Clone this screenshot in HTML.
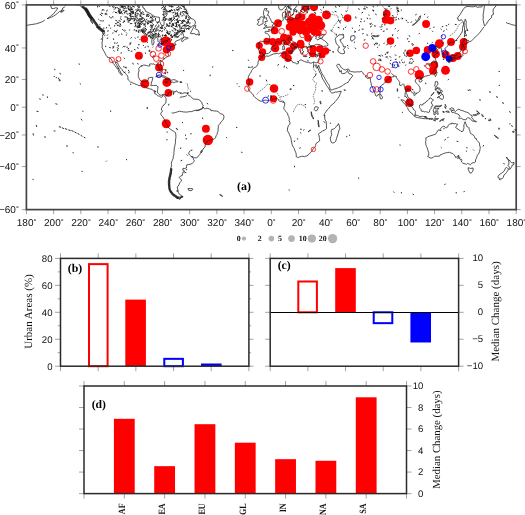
<!DOCTYPE html><html><head><meta charset="utf-8"><style>html,body{margin:0;padding:0;background:#fff;}svg{display:block;text-rendering:geometricPrecision;will-change:transform}</style></head><body>
<svg width="525" height="515" viewBox="0 0 525 515">
<rect width="525" height="515" fill="#fff"/>
<g clip-path="url(#mapclip)">
<clipPath id="mapclip"><rect x="26.4" y="4.9" width="489.80000000000007" height="204.7"/></clipPath>
<circle cx="144.3" cy="38.9" r="3.65" fill="#ff0000"/>
<circle cx="138.9" cy="55.7" r="3.95" fill="#ff0000"/>
<circle cx="165.9" cy="41.4" r="5.15" fill="#ff0000"/>
<circle cx="171.0" cy="46.9" r="4.05" fill="#ff0000"/>
<circle cx="166.5" cy="49.7" r="3.75" fill="#ff0000"/>
<circle cx="159.0" cy="67.6" r="3.85" fill="#ff0000"/>
<circle cx="166.9" cy="82.4" r="4.55" fill="#ff0000"/>
<circle cx="144.8" cy="83.8" r="4.55" fill="#ff0000"/>
<circle cx="168.4" cy="92.9" r="3.85" fill="#ff0000"/>
<circle cx="166.3" cy="123.7" r="4.55" fill="#ff0000"/>
<circle cx="205.9" cy="128.8" r="3.95" fill="#ff0000"/>
<circle cx="207.9" cy="140.0" r="5.25" fill="#ff0000"/>
<circle cx="278.0" cy="23.3" r="3.95" fill="#ff0000"/>
<circle cx="274.6" cy="30.5" r="3.85" fill="#ff0000"/>
<circle cx="290.6" cy="20.4" r="3.75" fill="#ff0000"/>
<circle cx="305.5" cy="7.0" r="4.05" fill="#ff0000"/>
<circle cx="314.0" cy="7.0" r="4.05" fill="#ff0000"/>
<circle cx="326.5" cy="14.9" r="4.45" fill="#ff0000"/>
<circle cx="292.0" cy="22.0" r="4.25" fill="#ff0000"/>
<circle cx="299.0" cy="17.5" r="4.05" fill="#ff0000"/>
<circle cx="296.5" cy="28.0" r="4.45" fill="#ff0000"/>
<circle cx="293.0" cy="32.0" r="3.65" fill="#ff0000"/>
<circle cx="302.5" cy="25.0" r="4.45" fill="#ff0000"/>
<circle cx="306.0" cy="31.5" r="4.45" fill="#ff0000"/>
<circle cx="308.0" cy="38.0" r="3.75" fill="#ff0000"/>
<circle cx="312.5" cy="17.5" r="4.25" fill="#ff0000"/>
<circle cx="318.5" cy="20.0" r="4.25" fill="#ff0000"/>
<circle cx="320.5" cy="25.5" r="4.75" fill="#ff0000"/>
<circle cx="312.0" cy="25.0" r="4.75" fill="#ff0000"/>
<circle cx="314.5" cy="31.0" r="4.45" fill="#ff0000"/>
<circle cx="318.0" cy="33.0" r="3.25" fill="#ff0000"/>
<circle cx="309.0" cy="22.0" r="4.25" fill="#ff0000"/>
<circle cx="297.0" cy="22.0" r="4.25" fill="#ff0000"/>
<circle cx="300.0" cy="30.0" r="4.25" fill="#ff0000"/>
<circle cx="310.0" cy="28.5" r="4.25" fill="#ff0000"/>
<circle cx="302.0" cy="17.0" r="3.45" fill="#ff0000"/>
<circle cx="316.0" cy="26.0" r="4.25" fill="#ff0000"/>
<circle cx="289.5" cy="27.0" r="3.75" fill="#ff0000"/>
<circle cx="300.5" cy="43.4" r="3.75" fill="#ff0000"/>
<circle cx="259.3" cy="45.6" r="3.55" fill="#ff0000"/>
<circle cx="262.6" cy="51.8" r="3.55" fill="#ff0000"/>
<circle cx="261.7" cy="57.5" r="3.55" fill="#ff0000"/>
<circle cx="266.9" cy="41.3" r="3.55" fill="#ff0000"/>
<circle cx="272.7" cy="41.7" r="3.75" fill="#ff0000"/>
<circle cx="278.7" cy="41.7" r="3.75" fill="#ff0000"/>
<circle cx="275.3" cy="48.3" r="3.95" fill="#ff0000"/>
<circle cx="284.0" cy="37.7" r="3.95" fill="#ff0000"/>
<circle cx="288.7" cy="38.3" r="3.75" fill="#ff0000"/>
<circle cx="286.7" cy="41.7" r="3.55" fill="#ff0000"/>
<circle cx="293.7" cy="46.0" r="3.75" fill="#ff0000"/>
<circle cx="300.7" cy="44.7" r="3.75" fill="#ff0000"/>
<circle cx="289.3" cy="51.0" r="3.75" fill="#ff0000"/>
<circle cx="285.0" cy="55.0" r="3.95" fill="#ff0000"/>
<circle cx="288.0" cy="58.3" r="3.75" fill="#ff0000"/>
<circle cx="313.1" cy="49.0" r="3.75" fill="#ff0000"/>
<circle cx="312.6" cy="53.8" r="3.55" fill="#ff0000"/>
<circle cx="319.8" cy="49.0" r="3.75" fill="#ff0000"/>
<circle cx="325.5" cy="51.0" r="3.75" fill="#ff0000"/>
<circle cx="322.1" cy="54.8" r="3.55" fill="#ff0000"/>
<circle cx="249.6" cy="81.9" r="3.75" fill="#ff0000"/>
<circle cx="274.0" cy="88.6" r="4.25" fill="#ff0000"/>
<circle cx="273.6" cy="98.7" r="3.55" fill="#ff0000"/>
<circle cx="347.6" cy="18.1" r="3.85" fill="#ff0000"/>
<circle cx="386.7" cy="13.7" r="3.85" fill="#ff0000"/>
<circle cx="385.7" cy="20.0" r="3.85" fill="#ff0000"/>
<circle cx="390.5" cy="20.6" r="3.85" fill="#ff0000"/>
<circle cx="390.5" cy="41.0" r="3.75" fill="#ff0000"/>
<circle cx="388.1" cy="79.5" r="3.85" fill="#ff0000"/>
<circle cx="408.1" cy="88.6" r="3.45" fill="#ff0000"/>
<circle cx="409.5" cy="102.7" r="4.25" fill="#ff0000"/>
<circle cx="426.1" cy="24.0" r="3.95" fill="#ff0000"/>
<circle cx="439.4" cy="43.7" r="4.45" fill="#ff0000"/>
<circle cx="451.0" cy="42.0" r="3.95" fill="#ff0000"/>
<circle cx="463.7" cy="42.0" r="3.95" fill="#ff0000"/>
<circle cx="463.0" cy="46.7" r="3.95" fill="#ff0000"/>
<circle cx="427.7" cy="50.0" r="3.95" fill="#ff0000"/>
<circle cx="416.3" cy="50.4" r="3.75" fill="#ff0000"/>
<circle cx="410.0" cy="53.3" r="3.75" fill="#ff0000"/>
<circle cx="435.7" cy="54.0" r="4.25" fill="#ff0000"/>
<circle cx="445.7" cy="54.7" r="3.95" fill="#ff0000"/>
<circle cx="453.0" cy="58.0" r="3.95" fill="#ff0000"/>
<circle cx="457.7" cy="56.0" r="3.95" fill="#ff0000"/>
<circle cx="434.3" cy="65.3" r="3.95" fill="#ff0000"/>
<circle cx="433.0" cy="70.7" r="3.95" fill="#ff0000"/>
<circle cx="445.5" cy="70.3" r="4.45" fill="#ff0000"/>
<circle cx="419.3" cy="74.8" r="4.75" fill="#ff0000"/>
<circle cx="432.3" cy="48.0" r="3.95" fill="#0000ff"/>
<circle cx="425.7" cy="56.7" r="4.45" fill="#0000ff"/>
<circle cx="449.0" cy="58.7" r="3.25" fill="#0000ff"/>
<path d="M65.2,6.2 65.9,3.5 69.9,2.1 72.7,2.7 75.4,4.6 79.5,5.2 81.5,6.8 84.2,8.6 86.3,9.7 87.6,11.4 89.0,13.9 90.3,16.8 92.4,18.0 93.7,19.2 94.4,21.0 95.8,22.8 97.1,24.4 97.8,26.6 99.2,27.4 101.2,28.7 102.6,30.2 104.2,30.8 104.6,32.8 104.0,34.4 102.6,34.8 102.6,36.4 102.6,38.8 102.5,40.7 101.9,42.9 102.3,44.7 102.0,47.2 102.9,49.4 104.0,51.5 104.8,52.1 104.6,52.8 105.4,53.8 105.9,55.2 107.1,56.5 107.2,57.2 108.7,57.5 110.1,58.2 111.0,58.8 111.8,60.3 112.5,61.9 113.3,63.6 114.0,64.6 115.4,65.8 116.1,67.2 116.9,68.1 117.8,69.2 118.6,70.4 118.8,72.2 119.6,72.8 120.7,74.0 121.6,75.3 122.5,74.7 121.8,73.7 120.8,73.0 120.6,71.9 119.9,70.9 119.1,69.2 118.2,67.7 117.3,66.1 116.5,64.6 115.4,63.0 115.1,61.7 115.9,62.2 117.4,62.7 118.2,64.2 118.9,65.8 119.9,67.4 121.0,68.3 122.3,69.8 122.9,71.2 124.1,72.2 125.3,73.4 126.4,74.6 127.5,75.9 128.0,77.5 127.8,78.8 128.3,80.0 129.4,81.0 130.5,82.0 132.1,82.6 133.3,83.3 134.8,83.8 136.2,84.4 137.6,85.0 139.1,85.5 140.4,85.7 142.0,85.1 143.1,85.1 144.4,85.8 145.7,87.2 146.9,88.2 148.2,88.2 149.4,88.8 150.9,89.2 152.1,89.3 152.5,89.7 153.3,90.6 154.6,92.0 154.7,93.1 154.8,93.8 155.7,94.0 156.2,94.3 157.0,95.0 157.6,95.7 158.4,96.1 159.3,96.1 160.4,96.9 161.4,97.3 162.0,97.0 162.5,96.6 162.0,96.1 163.1,95.1 164.1,95.4 164.8,96.0 165.0,96.9 165.6,97.5 166.0,98.3 166.1,99.5 166.0,101.1 166.0,102.2 165.4,103.6 164.5,104.1 164.0,105.1 162.9,105.6 162.3,106.4 162.0,107.7 161.4,108.7 161.6,110.2 162.6,110.9 162.2,111.7 161.5,112.3 160.8,113.1 161.0,114.7 161.6,115.7 162.6,116.5 163.4,117.9 164.1,119.1 164.8,120.5 165.4,122.0 166.3,123.5 167.1,124.9 167.6,125.9 168.2,127.3 169.3,128.4 170.3,129.1 171.7,130.1 173.3,131.1 174.3,131.8 175.5,132.6 175.8,134.7 175.9,136.4 175.8,138.4 175.4,140.2 175.5,142.3 175.1,144.4 174.8,146.2 174.2,148.2 174.2,150.3 173.9,152.3 173.9,154.7 173.3,156.3 173.1,158.7 172.4,160.2 171.7,161.7 171.3,163.4 171.6,165.5 171.0,167.4 170.9,169.2 171.6,170.1 171.0,171.6 171.4,173.1 170.8,175.0 169.8,176.9 169.1,178.5 169.9,179.7 169.0,180.9 169.8,182.7 168.7,184.3 169.5,186.2 169.1,188.6 169.9,190.3 171.2,191.9 172.5,193.7 174.0,194.6 175.7,195.5 177.4,196.7 179.5,197.0 180.8,197.2 182.7,196.5 181.0,195.5 179.6,194.4 178.2,192.3 178.0,191.0 176.6,191.0 178.2,190.8 177.6,189.0 177.3,187.1 178.2,186.0 179.2,184.3 179.7,182.7 181.2,181.3 181.8,180.1 179.9,178.5 179.3,177.3 180.7,175.9 182.2,175.6 182.6,173.8 183.0,172.0 184.0,171.6 184.8,171.4 183.8,170.5 182.7,170.1 183.0,168.3 184.5,168.5 186.4,168.0 186.5,166.5 186.8,164.8 188.3,164.6 190.2,164.3 192.4,163.4 193.1,162.5 194.2,161.2 194.2,160.2 193.3,159.2 193.5,158.5 192.0,157.2 191.7,156.0 192.1,156.5 193.3,157.2 194.8,157.8 196.5,157.8 197.6,157.2 198.5,155.9 199.6,154.7 200.4,153.4 201.5,151.8 202.3,150.6 203.1,149.0 204.1,147.8 205.0,147.0 205.2,145.3 205.2,143.8 205.6,142.9 206.9,141.8 208.3,140.8 209.7,140.4 210.8,139.8 212.5,139.2 214.2,139.2 215.0,138.3 215.7,137.3 216.1,135.8 217.1,134.4 217.3,132.6 218.0,131.4 218.1,129.2 218.4,127.1 218.2,125.6 218.9,124.9 219.9,123.9 220.7,122.3 221.8,121.3 222.6,120.3 223.4,119.2 223.8,117.9 224.0,116.6 223.4,114.9 222.3,114.2 220.8,113.9 219.3,112.7 218.0,111.5 216.5,111.0 214.4,111.0 212.3,110.5 211.0,110.8 210.8,109.7 209.4,109.0 207.9,108.5 206.1,108.1 205.3,108.9 204.4,108.6 203.3,107.7 202.7,106.6 203.3,105.4 202.2,104.3 201.6,102.0 201.0,101.4 200.0,100.6 198.9,99.6 197.6,99.4 195.9,99.2 194.6,99.2 193.3,99.1 192.3,98.0 191.6,97.3 190.2,96.0 188.9,95.5 187.8,94.6 187.4,93.8 186.5,92.9 185.2,92.8 184.0,92.8 182.6,93.5 181.2,92.8 179.7,92.8 178.4,92.8 177.6,91.7 176.1,90.7 175.8,91.7 174.3,91.7 174.0,92.8 173.3,94.6 173.3,92.7 173.5,91.4 172.7,91.0 171.7,91.8 170.3,92.1 169.4,92.2 168.4,93.2 168.3,94.4 167.5,95.0 166.7,96.0 166.0,95.5 165.3,94.6 164.5,94.4 163.1,94.2 161.8,95.0 161.0,95.3 160.1,95.0 159.5,94.7 158.9,94.2 157.8,93.1 157.4,92.0 157.4,90.9 157.7,89.7 157.8,88.2 158.1,86.8 157.3,86.4 156.3,85.4 155.0,85.4 153.6,85.5 152.1,85.4 151.3,85.7 150.6,85.5 151.2,84.6 151.3,83.3 151.4,81.9 152.0,81.6 152.3,80.1 152.5,78.7 153.2,77.8 152.7,77.4 151.2,77.4 149.5,77.7 148.4,78.1 148.2,79.6 148.0,80.4 146.9,81.4 145.6,81.6 144.2,81.7 143.0,82.3 141.8,81.6 140.7,81.0 140.1,80.1 139.5,79.1 138.8,77.8 138.4,76.6 138.2,75.3 138.4,73.7 138.5,72.2 139.1,70.9 138.8,69.5 138.8,68.3 139.7,67.2 140.8,66.6 142.2,65.7 143.7,65.0 145.0,65.2 146.4,65.5 147.5,65.8 148.6,66.0 149.7,66.1 149.9,65.5 149.4,64.2 150.3,63.9 151.4,63.9 152.7,64.1 153.7,63.9 154.8,64.6 155.5,65.0 156.6,64.6 157.6,64.9 158.2,66.0 158.8,67.2 158.8,68.4 159.5,69.6 160.0,70.6 160.7,71.5 161.1,71.9 161.9,71.8 162.3,70.4 162.3,69.2 161.8,67.7 161.6,66.7 161.1,65.5 160.6,64.1 160.6,62.5 161.2,61.4 162.0,60.6 163.4,59.5 164.5,58.5 165.7,57.7 166.9,57.0 168.0,56.2 168.6,55.5 168.2,53.8 167.9,53.2 167.5,51.6 167.5,50.2 167.4,49.0 168.0,48.8 168.3,49.9 169.1,50.6 169.1,49.9 169.4,49.7 170.1,48.8 170.6,47.4 170.6,46.9 170.9,46.4 172.1,46.2 173.5,45.6 174.7,45.3 175.2,45.1 176.1,44.9 175.8,44.2 174.8,43.8 175.0,42.7 175.2,42.3 175.8,41.2 176.9,40.8 178.1,40.3 179.5,39.7 180.3,39.1 181.2,38.4 182.6,38.0 183.7,37.0 183.4,38.2 181.9,39.3 181.4,40.5 181.9,41.6 183.1,41.0 184.5,39.7 185.7,39.1 187.5,38.6 188.3,38.2 187.6,37.6 186.3,37.4 184.8,37.2 183.8,36.4 183.3,35.2 183.1,33.4 182.3,33.0 181.5,32.8 182.5,32.2 183.5,31.4 183.8,30.8 182.0,30.4 180.4,30.6 178.2,31.8 176.7,33.2 175.4,34.6 174.4,35.2 174.2,35.4 175.2,34.2 176.3,33.0 177.4,31.8 178.5,30.2 179.7,30.0 181.0,28.3 183.1,28.3 185.0,28.1 187.5,28.5 189.5,28.3 191.3,27.0 192.7,25.9 193.7,25.5 194.8,24.4 195.4,23.1 195.1,21.0 193.6,19.4 192.4,19.0 190.6,18.3 190.3,17.1 188.7,16.1 187.6,14.2 187.2,12.7 186.3,10.2 184.9,8.6 184.2,6.0 183.4,3.8 M190.6,33.6 191.0,32.0 191.8,30.6 192.7,29.1 193.5,27.4 194.4,25.7 195.7,25.3 195.7,27.0 195.0,28.5 195.8,29.3 197.3,29.8 198.4,30.6 198.9,32.0 199.2,33.6 199.6,34.0 199.3,35.2 198.6,35.4 198.1,34.0 197.0,34.4 196.2,35.0 195.4,34.0 193.9,33.6 191.8,33.6 190.6,33.6 M142.3,4.1 142.9,6.8 143.1,8.1 144.5,8.4 145.6,11.4 147.5,12.2 149.5,13.2 151.4,14.2 153.2,15.6 155.2,16.8 157.7,17.1 159.3,17.3 159.5,19.4 159.6,21.5 160.4,23.1 161.6,25.5 162.9,25.9 163.8,25.3 164.1,23.5 164.0,20.6 163.4,18.5 165.2,17.1 166.4,15.6 167.1,14.2 166.9,11.9 166.1,9.4 164.9,7.8 165.7,6.0 165.6,3.5 M146.0,35.4 147.5,35.0 148.9,35.6 150.8,34.6 152.3,35.8 154.3,35.4 155.9,35.8 156.2,34.8 155.8,33.4 153.7,31.4 151.6,31.2 149.8,32.6 148.2,33.2 146.0,35.4 M155.7,36.8 153.5,37.0 152.1,38.6 151.8,40.1 151.8,42.2 152.1,44.2 152.5,45.1 153.5,44.5 153.9,43.1 153.9,41.4 153.6,40.1 154.8,38.6 155.7,37.4 155.7,36.8 M156.2,36.8 156.9,37.8 157.8,38.6 158.0,40.1 157.7,41.0 159.1,42.5 160.1,41.8 160.1,40.1 160.7,38.8 162.2,39.5 161.6,37.8 160.3,36.6 158.6,36.6 156.2,36.8 M157.8,44.9 159.2,45.5 160.7,44.9 162.5,44.0 163.8,43.1 162.2,43.3 160.7,43.3 159.1,44.4 157.8,44.9 M162.7,42.0 164.5,41.8 166.5,42.0 167.6,41.4 167.2,40.3 165.6,40.8 163.3,41.4 162.7,42.0 M139.6,27.9 140.3,26.1 139.1,23.7 138.0,21.3 136.9,20.1 136.3,21.5 138.1,24.4 139.1,27.2 139.6,27.9 M155.8,76.8 157.0,75.6 158.4,75.2 159.7,74.9 161.5,75.0 163.0,75.8 164.8,76.2 166.3,77.2 167.9,78.0 169.3,78.5 170.3,79.3 169.4,79.7 167.2,79.7 165.6,79.7 166.3,78.7 165.2,78.0 164.4,77.2 163.1,77.1 161.8,76.6 160.1,76.2 158.8,75.8 157.0,76.6 155.8,76.8 M170.1,81.7 171.4,80.0 172.7,79.8 173.9,79.7 175.4,80.0 176.5,80.7 178.1,81.6 177.7,82.0 176.2,81.9 174.6,82.1 173.9,82.9 172.5,82.1 171.4,82.1 170.1,81.7 M164.8,81.9 166.3,81.7 167.5,82.3 166.7,82.7 165.4,82.6 164.8,81.9 M179.9,81.7 182.0,81.9 181.9,82.4 179.9,82.4 179.9,81.7 M165.2,69.6 166.3,69.8 165.7,71.0 165.2,69.6 M164.9,72.2 165.6,73.1 165.4,74.1 164.9,73.3 164.9,72.2 M167.5,71.8 167.1,72.5 167.8,73.1 167.5,71.8 M96.6,27.0 97.8,28.5 99.5,29.8 100.6,31.0 102.6,32.0 103.4,32.0 101.5,29.5 99.9,28.1 97.8,27.0 96.6,27.0 M90.3,19.7 91.4,19.9 92.3,22.2 92.7,23.7 91.7,22.6 90.8,21.0 90.3,19.7 M44.8,20.1 42.7,21.5 40.0,22.6 36.6,23.7 33.9,24.2 31.2,24.6 28.4,25.0 26.4,25.5 M64.8,7.0 62.7,8.1 61.5,11.2 59.7,11.2 57.7,13.2 55.7,14.7 53.6,16.1 51.6,17.1 50.2,17.5 48.7,18.3 47.1,18.7 49.4,17.3 51.3,15.4 53.2,14.2 55.0,11.9 56.7,9.9 57.7,8.1 55.7,7.8 53.5,8.6 51.6,8.4 50.5,5.2 M60.8,12.2 62.9,11.7 64.1,10.4 62.6,10.2 61.4,10.9 60.8,12.2 M506.0,22.4 507.4,23.3 509.4,23.7 511.4,24.6 513.5,25.0 515.5,25.5 516.2,25.7 M187.9,188.6 190.2,188.6 192.4,188.6 192.8,189.5 191.0,190.8 188.7,190.3 187.9,188.6 M187.1,93.5 187.6,92.5 188.4,92.5 188.3,93.5 187.1,93.5 M208.7,3.3 210.8,5.2 212.4,4.6 213.3,3.3 M59.2,79.3 60.4,80.0 59.7,81.1 59.2,80.8 59.2,79.3 M56.1,77.2 56.7,77.7 56.2,77.7 56.1,77.2 M58.1,78.1 59.1,78.4 58.4,78.7 58.1,78.1 M53.9,76.4 54.6,76.5 54.2,76.8 53.9,76.4 M146.8,107.5 147.5,107.5 147.6,108.6 146.9,108.5 146.8,107.5 M219.6,194.6 221.6,195.1 222.6,196.5 220.7,195.3 219.6,194.6 M278.0,0.7 278.1,3.3 278.5,6.2 278.9,8.1 279.5,9.4 280.7,9.9 282.2,9.7 283.5,8.4 284.6,7.3 285.6,5.7 285.9,7.0 286.5,7.6 286.7,9.1 287.4,10.9 288.0,12.4 288.6,13.9 288.7,15.6 289.1,16.6 290.6,16.6 291.0,15.4 292.4,14.9 293.3,14.4 293.7,12.7 293.9,10.7 294.2,8.9 295.2,8.1 296.2,6.8 296.9,5.2 295.1,3.3 294.8,0.7 M300.3,0.7 300.6,3.0 301.6,4.4 302.6,4.9 303.3,4.6 304.6,4.6 306.0,3.8 307.4,3.8 308.7,3.5 310.2,3.3 311.3,4.4 312.0,5.2 310.8,5.2 309.4,6.2 308.0,6.5 306.0,6.2 304.4,6.5 303.3,7.0 303.3,8.1 303.4,9.4 304.4,9.4 304.5,10.9 304.4,12.2 303.3,12.7 302.6,12.4 301.9,11.2 300.7,11.7 299.9,13.2 299.9,14.9 300.0,15.9 300.3,17.1 299.7,17.5 298.5,17.8 298.0,19.0 296.9,19.0 296.5,18.3 295.1,18.0 293.7,18.7 292.4,19.4 290.8,20.1 289.5,19.4 288.3,19.0 287.2,19.7 286.1,19.9 286.1,19.0 285.2,18.7 284.8,18.0 285.6,16.6 285.2,15.2 285.7,13.9 285.4,12.2 285.7,10.9 284.9,11.4 284.1,12.4 283.0,12.4 282.5,13.4 282.3,14.9 282.5,16.4 283.0,17.3 283.1,19.0 283.4,19.9 282.6,20.8 281.1,21.5 279.9,21.3 278.6,21.5 277.8,22.4 277.4,23.9 276.7,24.6 276.1,25.5 275.4,25.9 274.6,26.4 273.6,26.8 273.5,28.1 272.8,28.7 271.6,29.3 271.6,30.0 270.6,30.2 269.5,30.0 269.1,29.3 268.7,29.3 269.3,31.4 268.0,31.6 266.9,31.2 265.3,31.4 264.9,32.2 265.4,32.8 265.3,33.2 266.5,33.4 267.6,33.8 268.3,34.4 268.6,34.8 269.0,35.8 269.7,36.4 269.7,37.6 269.7,39.1 269.5,40.3 269.3,41.6 268.9,41.8 267.5,41.8 266.1,41.6 264.8,41.8 263.4,41.4 261.8,41.4 260.4,41.2 259.6,41.8 258.8,42.3 258.9,43.4 259.2,44.4 259.3,45.5 259.2,46.7 258.8,48.5 258.4,49.7 258.6,50.2 259.2,50.6 259.3,51.5 259.3,52.5 259.2,53.2 260.4,53.0 261.2,52.8 261.9,52.8 262.6,53.5 262.9,54.2 263.7,54.8 264.5,54.2 265.2,53.7 266.5,53.7 268.3,53.5 269.1,52.6 270.2,52.1 270.6,51.1 271.6,50.2 270.9,49.0 271.3,48.1 272.1,46.9 272.5,46.2 274.2,45.6 275.4,44.7 275.7,43.8 275.4,42.5 276.1,42.0 277.2,41.6 278.1,42.0 279.3,42.3 280.4,42.2 281.4,41.2 282.5,40.8 283.3,39.9 284.2,40.3 285.2,40.8 285.6,42.0 286.3,43.3 287.4,44.2 288.3,45.1 289.1,45.6 290.3,46.2 291.0,46.9 291.7,47.6 292.5,48.0 292.8,48.8 293.2,50.1 292.7,51.1 292.9,51.6 293.9,50.8 294.6,49.7 294.7,49.0 293.9,48.3 294.4,47.2 295.7,47.4 296.5,47.8 296.2,46.9 294.7,46.2 293.2,45.3 293.1,44.5 292.0,44.5 290.8,43.4 289.8,41.6 288.4,40.5 288.0,39.5 288.2,38.0 289.1,37.4 289.9,37.6 290.2,38.9 291.6,39.7 292.1,40.7 292.9,41.6 294.3,42.2 295.2,42.7 296.5,43.6 297.6,44.5 297.8,45.3 297.7,46.5 297.7,47.6 298.5,48.7 299.3,49.7 299.7,50.6 300.3,50.9 300.8,52.0 300.8,53.3 301.8,54.0 302.3,53.7 302.9,54.0 302.5,52.5 303.1,52.1 304.0,52.0 303.3,51.3 302.2,50.2 302.6,49.2 302.2,48.0 302.0,47.1 303.1,47.4 303.8,47.8 304.4,46.5 305.6,46.4 306.7,46.5 307.4,47.1 306.9,47.8 307.9,47.4 309.4,47.2 310.8,47.2 312.0,46.7 310.8,46.2 310.1,46.2 308.6,46.4 307.8,46.9 307.1,48.0 306.9,49.0 307.9,49.4 308.0,50.8 307.2,51.1 308.3,51.6 308.4,52.8 309.0,53.5 309.8,53.5 310.8,53.8 311.7,54.5 312.8,54.0 312.9,53.5 314.2,53.5 315.5,54.7 317.0,54.5 318.2,53.7 319.6,53.8 320.4,53.5 320.6,54.3 320.0,55.2 320.1,56.2 319.7,57.3 319.1,58.3 319.1,59.6 318.8,60.4 318.4,61.7 317.8,62.5 316.3,62.8 315.2,62.7 314.3,62.2 313.5,62.0 312.7,62.4 311.6,63.0 310.3,63.1 308.7,62.5 307.1,62.2 305.6,62.0 304.4,61.4 302.9,60.9 301.9,60.1 300.7,59.9 299.6,60.4 298.6,61.4 298.5,63.0 297.8,63.9 296.6,63.8 295.5,63.1 294.2,62.7 292.7,62.4 292.0,60.9 290.8,60.3 289.3,59.9 288.0,60.1 286.9,59.5 286.3,58.6 285.3,58.5 285.0,57.7 286.0,56.8 286.4,56.0 285.7,55.0 285.7,54.2 286.4,53.3 285.3,52.8 284.5,52.6 283.3,53.3 281.8,53.3 280.0,53.0 278.5,53.8 277.4,53.3 276.1,53.5 274.8,53.8 273.2,54.0 272.0,54.7 270.6,55.2 269.7,55.7 268.3,56.3 266.9,56.0 265.3,56.3 264.1,55.0 263.1,55.2 262.6,56.2 261.9,57.7 261.0,58.6 259.6,59.3 258.6,60.4 258.0,62.2 258.1,63.6 257.6,64.9 256.7,66.0 255.7,67.2 254.2,67.7 253.2,68.3 252.4,69.5 251.6,70.6 251.2,71.9 250.2,73.4 249.5,74.3 248.9,75.8 248.3,76.9 248.2,78.1 248.6,79.1 249.1,80.1 249.4,81.7 249.1,83.3 248.9,84.7 248.4,85.8 247.9,86.7 247.5,87.1 248.2,87.5 248.6,88.3 248.4,89.2 248.6,90.3 249.3,90.9 250.1,91.4 250.9,92.4 251.4,93.2 252.4,93.9 253.3,95.0 253.9,96.4 254.8,97.3 255.8,98.0 256.7,98.7 257.8,99.6 259.1,100.5 260.4,101.1 261.1,101.3 262.5,100.9 263.8,100.3 265.2,100.2 266.5,100.3 267.9,100.7 268.6,100.7 269.4,100.3 270.6,99.9 272.0,99.4 273.1,99.0 274.4,98.7 276.1,98.6 277.4,98.7 278.4,99.5 278.9,100.6 279.7,101.4 281.0,101.3 282.2,101.1 283.0,101.0 284.0,101.8 284.5,102.4 284.8,103.0 284.6,104.1 284.6,105.5 284.2,106.3 284.0,107.3 283.7,108.3 284.2,109.4 285.0,110.6 286.1,111.6 286.9,112.7 287.6,113.8 288.0,114.9 288.0,115.5 288.7,116.6 289.3,118.5 289.3,119.5 289.0,120.5 289.8,122.0 290.1,123.1 289.8,124.1 289.0,125.0 288.3,125.9 287.9,127.1 287.4,129.0 287.4,130.7 288.2,132.1 289.0,133.5 289.5,134.9 290.6,137.1 291.0,138.7 291.4,140.8 292.1,144.7 293.6,147.6 294.2,148.4 294.8,150.3 295.7,152.3 296.2,154.1 296.3,155.7 296.2,156.3 296.3,156.8 296.9,157.0 297.6,157.3 298.2,157.7 299.1,157.0 300.7,156.7 301.5,156.3 303.0,156.3 304.5,156.7 305.9,156.0 306.9,155.9 308.0,155.0 309.1,154.2 310.3,152.8 311.3,151.7 312.4,150.3 313.3,148.7 314.2,147.8 315.1,147.1 315.5,145.6 315.9,144.1 316.1,143.6 316.3,143.2 316.9,142.7 318.4,142.0 319.5,140.7 319.6,138.6 319.3,137.3 319.1,135.8 318.5,134.5 318.6,133.8 319.9,132.9 321.0,132.1 322.3,131.2 324.1,130.4 325.7,129.4 326.7,128.3 326.4,127.0 326.5,125.5 326.3,123.9 326.3,122.1 326.0,121.3 325.0,119.8 324.8,118.1 324.8,116.9 324.2,115.9 324.2,114.7 324.6,113.6 325.2,112.8 326.0,111.7 326.4,110.8 327.1,110.0 327.9,109.4 329.0,108.1 330.2,106.7 331.3,105.2 332.8,104.1 334.3,102.9 335.2,101.5 336.6,100.1 337.7,98.6 339.1,96.6 340.0,94.3 340.4,93.1 341.0,92.2 341.1,91.1 340.0,91.4 338.2,91.8 336.9,92.0 335.2,92.0 333.6,92.8 331.6,92.9 330.3,91.8 329.8,90.2 329.0,88.9 327.8,87.1 326.5,85.5 325.3,83.1 324.4,81.7 323.5,80.1 322.2,78.1 321.6,76.1 321.1,74.3 320.0,73.0 319.1,70.9 318.2,68.6 317.3,66.7 316.5,64.9 315.7,64.7 315.2,65.2 315.7,65.8 315.9,67.0 316.7,68.3 317.4,67.8 318.1,66.9 318.5,65.5 318.8,65.3 319.3,67.4 320.0,68.9 321.0,71.5 321.9,73.4 323.4,75.9 324.5,77.5 325.3,79.3 326.8,81.7 327.8,83.3 328.9,84.8 329.5,86.4 329.8,87.8 330.3,89.5 330.8,90.0 331.6,89.9 332.5,89.7 333.9,89.2 335.2,88.8 337.3,88.1 338.6,87.6 340.0,86.9 341.1,86.5 342.3,85.7 343.5,84.8 344.8,84.0 346.1,83.4 346.9,82.6 348.2,82.4 348.6,81.3 349.7,80.1 349.9,79.0 350.9,78.3 352.0,76.8 352.7,75.8 351.8,74.6 350.9,74.1 349.7,73.8 348.6,73.3 347.9,71.9 348.0,70.6 347.6,70.3 346.9,71.3 346.3,72.1 345.3,73.3 344.1,73.4 342.7,73.7 341.5,73.3 341.4,72.5 341.5,71.3 341.4,70.6 340.8,70.7 340.4,71.6 340.0,72.1 339.6,71.0 339.5,70.0 338.8,69.2 338.4,68.3 337.7,67.7 337.2,66.7 336.6,65.3 337.2,64.7 337.7,64.1 338.6,64.4 339.5,64.4 339.9,65.3 340.3,66.0 340.8,66.9 341.4,67.8 342.5,68.4 343.5,69.3 344.8,69.8 345.9,70.0 346.9,69.3 347.9,69.0 348.7,69.2 349.3,70.4 349.4,71.2 350.6,71.3 351.7,71.6 352.9,71.8 354.6,72.1 356.3,71.9 357.7,71.8 359.2,71.9 360.7,71.6 361.9,71.6 362.7,72.5 363.1,73.7 364.0,74.3 364.6,74.9 365.3,75.5 366.7,75.8 365.9,76.5 365.2,76.2 367.1,78.3 367.9,78.4 369.1,78.1 370.1,77.5 370.3,78.8 370.5,80.7 370.9,82.4 371.2,83.8 371.4,85.3 372.1,86.7 372.8,88.2 373.2,89.7 373.7,91.1 374.3,92.2 375.0,93.6 375.4,95.0 376.1,96.0 376.7,96.2 377.6,95.7 377.8,94.7 379.1,94.6 379.9,93.2 380.0,91.5 380.6,89.3 380.4,87.2 380.6,86.0 381.6,85.4 382.2,84.7 383.3,84.4 384.0,83.4 385.0,82.3 386.1,81.1 387.1,80.3 388.3,79.6 389.5,78.4 389.7,77.4 390.8,77.1 391.8,77.1 392.9,76.8 394.2,76.6 394.6,75.8 395.2,76.1 396.2,76.1 396.3,77.2 396.9,78.4 397.7,79.4 398.5,80.4 399.1,81.3 399.7,82.4 399.6,84.0 399.6,85.1 400.1,85.4 401.1,85.5 402.2,84.6 403.1,83.7 404.1,84.8 404.2,86.2 404.9,87.9 405.3,89.3 405.5,91.1 405.3,92.7 405.0,93.9 405.0,95.3 404.9,96.5 405.3,96.0 406.0,96.9 406.8,98.0 407.5,98.7 407.9,99.6 407.9,101.0 408.4,102.1 409.1,103.3 409.8,103.9 410.9,104.7 412.0,105.5 412.7,105.5 413.1,105.2 412.7,104.1 412.0,102.8 412.0,101.4 411.6,100.1 410.8,99.2 409.7,98.3 408.7,97.9 408.0,97.5 407.6,96.1 407.2,94.7 406.4,93.6 406.3,92.4 406.8,91.0 407.2,89.7 407.5,88.8 408.3,88.8 408.6,89.9 409.7,90.0 410.8,90.6 411.2,91.4 411.7,92.4 412.7,92.9 413.6,93.1 414.0,93.9 413.9,95.3 414.4,95.5 415.5,94.7 416.3,94.0 416.5,93.2 417.4,92.9 418.4,92.4 419.6,91.5 419.9,90.4 420.1,89.2 419.9,87.8 419.3,86.4 418.8,85.5 417.8,84.6 416.6,83.4 415.9,82.4 415.1,81.1 415.4,80.0 416.2,79.0 416.9,78.3 418.1,77.4 419.2,77.2 420.4,77.2 420.8,77.7 420.7,78.8 421.5,79.1 421.8,78.1 422.7,77.4 424.1,76.9 425.2,76.2 426.1,76.1 426.9,75.8 428.3,75.5 429.5,75.3 430.6,74.4 431.6,73.6 432.5,72.8 433.5,71.8 434.0,70.9 434.3,69.8 435.0,68.9 435.7,67.8 436.2,66.9 436.9,65.8 437.2,64.7 436.3,64.1 437.2,63.1 437.0,62.2 436.2,61.6 435.8,60.4 435.5,59.3 435.0,57.7 433.9,57.2 433.5,56.3 434.3,55.3 435.2,54.7 436.2,53.8 437.8,53.3 437.7,52.5 436.6,52.3 435.7,51.8 434.4,52.6 433.3,52.8 433.1,51.6 432.0,50.9 431.3,50.4 431.4,49.5 432.5,49.4 433.6,49.0 434.2,48.1 435.4,47.4 436.3,46.4 437.4,46.9 436.7,48.0 436.2,49.2 436.5,50.1 437.6,49.4 438.5,48.7 439.5,48.3 440.4,48.1 441.1,48.5 441.8,48.8 441.5,50.1 441.1,51.1 442.2,51.8 443.0,52.0 443.5,52.8 443.4,54.0 443.5,55.3 443.1,56.5 443.4,57.3 444.5,57.2 445.6,56.7 446.7,56.3 447.4,55.7 447.5,54.3 447.4,53.0 446.8,51.8 446.1,50.8 445.6,49.9 444.8,48.8 445.2,48.1 446.3,47.4 447.2,46.5 447.8,45.5 448.6,44.4 449.1,43.3 449.9,42.9 451.3,42.0 452.5,42.9 453.9,41.8 455.5,40.8 457.0,39.1 458.4,37.4 459.7,35.6 460.8,34.0 462.0,32.2 462.5,29.8 462.6,27.4 463.5,24.6 463.5,22.8 462.9,21.5 461.4,19.7 459.3,20.6 458.0,19.9 458.2,18.7 457.3,18.5 458.0,17.1 459.9,14.9 461.5,12.2 463.4,9.1 465.3,7.0 467.1,6.5 469.4,6.5 471.3,6.8 473.6,6.8 475.4,6.2 477.4,7.3 478.9,7.0 481.1,7.0 482.2,6.5 481.9,5.2 483.5,2.1 M484.4,2.1 484.5,4.9 483.8,10.7 483.5,12.7 483.1,14.7 483.3,17.1 483.0,19.4 483.8,23.1 484.5,26.1 486.3,24.4 487.4,22.2 489.0,19.9 491.4,17.8 491.8,15.2 493.5,14.4 493.1,11.4 493.3,9.1 495.1,7.0 496.5,4.9 497.8,3.5 M263.5,28.5 264.5,28.5 265.6,27.9 266.7,27.4 267.9,27.4 269.0,27.2 269.9,27.0 271.3,27.0 272.5,26.8 273.2,26.1 272.3,25.5 272.5,24.8 273.5,24.2 273.6,22.8 273.1,22.4 271.8,22.4 271.6,21.3 271.0,20.6 270.8,19.2 269.8,18.5 269.4,17.5 269.1,16.1 268.4,15.4 267.2,15.2 267.8,14.4 268.4,13.2 268.9,11.4 268.0,10.9 266.4,10.9 265.7,10.4 267.1,8.6 265.2,8.6 264.5,8.6 264.1,10.2 263.5,11.7 263.7,13.2 263.3,13.9 264.0,15.2 263.8,16.6 264.6,16.1 264.6,17.3 264.4,18.0 265.3,18.0 266.7,17.8 266.5,19.2 267.2,20.1 267.2,21.5 266.5,21.5 265.0,21.5 265.2,22.6 265.7,23.5 264.9,24.4 264.2,24.8 265.6,25.3 266.7,25.7 267.2,26.1 266.1,26.1 265.3,26.6 264.4,27.4 263.5,28.5 M262.9,23.9 263.1,22.4 263.0,21.0 262.9,19.9 263.7,18.7 263.3,17.3 262.5,17.1 261.2,16.8 260.1,17.3 259.7,18.5 260.1,19.2 257.8,19.4 257.8,21.0 258.8,21.7 258.0,23.1 257.3,24.4 258.1,25.3 259.7,25.3 261.1,24.4 262.6,23.9 262.9,23.9 M288.2,51.6 289.4,51.1 291.0,51.3 292.5,50.9 291.8,52.6 292.0,53.7 290.8,53.2 289.0,52.3 288.2,51.6 M282.7,46.4 283.8,45.8 284.6,47.1 284.4,49.5 283.5,49.7 282.7,49.7 282.9,47.6 282.5,46.9 282.7,46.4 M283.0,43.6 284.1,42.5 284.4,43.8 283.8,45.5 283.1,44.7 283.0,43.6 M303.3,56.0 304.4,55.8 306.0,56.0 307.1,56.0 306.7,56.5 304.9,56.7 303.4,56.3 303.3,56.0 M315.2,56.5 316.2,55.8 318.4,55.3 317.6,56.5 316.2,57.2 315.2,56.5 M274.6,48.7 275.7,48.1 275.8,49.0 275.0,48.8 274.6,48.7 M286.1,16.8 286.5,15.4 287.9,14.9 288.4,15.9 287.6,17.1 286.4,17.1 286.1,16.8 M284.6,16.8 285.6,16.4 285.7,17.3 284.9,17.5 284.6,16.8 M295.9,11.9 296.9,10.4 296.7,12.2 295.9,11.9 M301.0,9.4 302.6,8.6 302.3,9.7 301.0,9.4 M310.8,45.8 309.5,45.1 309.1,43.6 309.4,42.5 310.2,41.4 310.3,40.3 311.6,38.8 311.7,38.2 312.9,36.6 313.5,35.6 314.6,35.6 315.5,36.6 316.9,36.8 315.5,38.0 316.9,39.5 317.8,39.9 319.3,38.9 321.0,38.4 322.3,39.3 323.5,40.1 324.8,40.8 325.9,41.8 327.1,43.1 328.0,44.7 327.9,45.3 326.8,46.0 325.0,46.2 323.4,46.4 321.8,45.8 320.6,45.1 319.2,44.4 317.7,44.4 316.6,44.4 315.2,44.7 313.9,45.8 312.4,45.8 310.8,45.8 M319.3,38.2 318.9,37.4 319.6,36.2 321.0,35.6 322.3,34.6 323.7,34.6 324.8,34.4 323.3,36.0 322.6,37.0 322.5,38.0 321.1,38.0 319.3,38.2 M338.6,35.0 340.0,34.8 341.1,34.6 342.7,35.0 343.4,35.4 343.7,36.8 343.5,38.0 342.2,38.2 341.1,39.7 339.7,39.9 340.4,40.7 341.1,42.2 342.0,43.3 343.0,44.7 343.1,46.0 343.5,46.9 344.6,46.7 345.6,46.5 344.8,48.0 344.1,48.8 343.5,49.2 344.0,50.4 344.6,52.1 344.5,53.3 342.7,53.7 341.4,53.5 339.9,53.0 339.1,52.3 338.0,51.5 337.8,50.2 338.2,48.8 338.6,47.4 339.7,47.2 338.8,46.5 337.8,45.3 337.0,44.4 336.1,43.1 335.8,42.0 335.9,40.7 335.0,39.9 335.4,38.8 335.8,37.6 336.9,36.8 337.6,36.4 338.6,35.0 M350.9,36.2 352.3,35.8 354.4,35.6 355.1,37.2 354.7,38.8 353.5,40.1 352.0,41.2 350.9,40.7 350.5,38.8 350.9,36.2 M371.3,36.2 372.7,35.6 374.2,35.4 375.5,36.0 376.9,35.8 378.4,35.2 379.2,35.6 378.5,36.4 376.7,36.6 375.2,36.6 373.5,36.4 372.3,37.4 371.3,36.2 M412.5,25.3 413.9,24.8 415.5,23.5 417.0,22.2 418.6,20.8 419.9,18.7 420.6,15.9 420.0,15.9 419.1,17.5 417.6,20.6 415.8,22.4 414.2,23.9 412.5,25.0 412.5,25.3 M312.0,1.6 313.5,1.0 315.9,1.9 316.1,3.3 314.4,4.4 312.8,4.9 312.0,1.6 M318.9,0.7 320.3,0.7 319.3,2.7 318.9,0.7 M314.4,108.6 315.2,106.8 316.5,106.8 317.7,107.1 318.6,107.8 317.7,108.6 317.3,110.0 316.6,110.8 315.4,110.8 314.4,109.7 314.4,108.6 M311.2,111.7 311.3,113.6 311.4,115.1 311.8,116.4 312.7,117.5 313.3,119.0 313.7,119.0 313.1,117.5 312.5,115.9 311.8,114.4 311.6,113.0 311.2,111.7 M318.0,120.2 318.4,122.0 318.0,123.1 318.4,125.0 318.5,126.7 319.2,127.0 318.9,125.0 318.6,123.0 318.2,120.9 318.0,120.2 M320.1,101.0 320.6,101.4 321.1,103.7 320.6,104.0 320.1,102.4 320.1,101.0 M289.7,89.2 290.6,88.6 291.4,88.9 291.0,89.7 290.1,89.5 289.7,89.2 M271.2,98.7 271.6,97.2 271.3,95.4 270.5,95.7 270.8,97.2 271.2,98.7 M308.0,131.9 310.1,130.1 310.8,130.1 309.1,131.2 308.0,131.9 M321.6,90.6 322.5,90.7 322.3,91.4 321.6,90.6 M338.4,123.6 339.3,125.7 339.7,127.8 339.9,129.0 339.1,129.9 338.5,132.1 338.1,133.8 337.3,136.1 336.5,138.6 335.7,141.2 334.6,142.4 332.8,143.0 331.3,142.3 330.6,140.2 330.2,138.1 330.9,136.4 331.7,134.7 331.3,132.6 331.2,130.9 331.7,129.5 333.2,129.2 334.6,128.5 335.7,127.3 336.6,125.9 337.6,125.5 338.4,123.6 M380.0,93.9 380.7,94.3 381.5,95.5 382.3,96.8 382.6,97.9 381.8,98.8 380.7,99.1 380.1,98.1 379.9,96.6 380.0,93.9 M461.8,45.3 462.6,44.7 463.4,44.7 464.5,43.8 466.1,44.4 467.2,42.7 469.3,42.0 468.6,40.5 467.2,40.3 465.6,39.3 464.4,38.0 464.0,38.6 464.1,40.3 463.7,41.8 462.5,42.0 462.2,42.9 461.8,43.8 461.8,45.3 M463.7,45.5 464.0,47.1 464.5,48.7 464.0,49.9 463.1,50.9 463.0,52.5 463.1,53.5 462.7,54.8 463.0,55.3 462.2,56.3 461.5,56.0 461.4,56.5 460.7,56.0 460.4,57.0 460.1,56.3 459.5,57.2 458.2,57.0 457.6,57.7 456.7,57.8 456.1,59.0 455.2,58.3 455.5,57.2 454.7,56.8 453.6,57.2 452.5,57.7 451.4,57.7 450.6,58.2 449.5,58.2 449.5,57.5 450.2,57.0 451.4,55.8 452.5,55.5 454.0,55.5 455.4,55.5 456.1,55.7 456.5,55.0 457.3,53.8 457.7,53.0 458.1,53.5 458.9,53.2 459.7,52.5 460.4,51.5 461.2,50.2 461.8,48.8 461.8,47.6 461.8,46.7 462.7,45.8 463.7,45.5 M448.2,59.0 449.1,58.3 449.7,58.3 450.3,59.3 450.8,60.1 450.2,61.6 449.9,62.5 449.0,62.8 448.4,62.4 448.4,61.4 449.0,60.3 447.9,60.1 447.6,59.5 448.2,59.0 M451.6,59.3 452.0,58.3 452.9,58.2 453.8,57.7 454.6,57.8 454.4,58.5 453.8,59.3 452.5,60.1 451.8,60.1 451.6,59.3 M464.4,36.8 465.2,35.4 466.5,35.8 466.1,34.2 465.3,33.0 465.6,30.8 466.1,30.0 467.9,30.8 466.5,27.6 466.1,25.5 466.1,23.3 466.3,21.5 465.2,19.2 464.9,21.0 464.2,22.6 464.1,25.5 464.5,27.9 464.6,30.8 464.4,33.2 464.5,34.8 464.4,36.8 M434.7,75.2 435.1,75.9 435.5,76.6 435.9,75.9 436.5,74.7 436.7,73.7 437.2,72.4 436.6,71.8 435.9,72.2 435.5,73.0 434.8,74.1 434.7,75.2 M419.1,80.6 419.9,79.7 420.4,79.4 421.6,79.4 422.3,80.0 421.8,81.0 421.4,81.7 420.3,82.1 419.2,81.7 419.1,80.6 M435.4,81.7 436.6,81.6 437.6,81.7 437.7,83.1 438.0,83.8 437.6,84.8 436.7,85.5 436.7,86.7 437.3,87.5 438.1,87.8 439.5,88.2 440.0,88.3 440.1,89.5 439.7,89.9 439.1,89.3 438.1,88.6 437.0,88.2 435.9,88.3 435.4,87.6 435.4,86.8 434.6,85.8 435.0,85.0 435.1,83.8 435.4,81.7 M437.2,97.7 438.4,96.5 439.5,96.6 439.9,96.0 441.1,95.1 442.0,94.2 443.0,94.7 443.5,97.2 443.1,98.7 442.2,99.6 441.8,99.0 440.3,98.8 439.9,97.9 438.4,97.3 437.2,97.7 M440.4,90.2 441.8,90.2 442.3,92.0 441.4,92.7 441.4,93.6 440.8,93.3 440.4,91.5 440.4,90.2 M437.2,91.0 438.5,91.7 438.0,92.8 437.2,92.2 437.2,91.0 M438.1,92.4 439.3,92.4 438.9,94.3 438.0,93.8 438.1,92.4 M439.7,92.0 440.0,92.9 439.2,94.3 439.7,92.0 M435.1,88.8 436.3,88.9 436.2,90.3 435.2,90.0 435.1,88.8 M430.8,95.8 431.8,95.0 432.8,93.8 433.9,92.2 433.6,93.2 432.3,94.7 430.8,95.8 M419.6,105.2 420.4,104.5 421.4,104.9 422.6,105.1 423.0,103.9 424.9,103.0 426.0,102.1 426.7,101.0 427.8,100.5 428.3,99.9 429.1,99.1 429.9,97.9 430.9,98.0 431.4,98.8 432.5,99.4 433.5,100.1 432.3,101.0 431.6,101.7 431.3,102.9 432.0,104.1 433.1,105.6 431.8,106.2 431.2,107.3 431.2,108.3 430.2,109.3 429.7,110.6 429.3,112.1 428.4,112.5 427.2,112.0 426.4,111.9 425.3,111.6 424.4,111.9 423.3,111.3 421.9,111.3 421.2,111.0 421.1,109.7 420.3,108.6 419.7,107.7 419.6,106.6 419.6,105.2 M401.0,99.6 401.9,100.1 403.8,100.2 405.0,101.4 405.7,102.4 406.7,103.0 407.8,104.1 408.6,104.5 409.4,104.9 410.5,105.6 411.4,106.4 412.3,107.0 412.5,107.8 413.3,108.7 413.8,110.0 414.8,110.5 415.5,111.5 415.4,112.5 415.2,115.1 413.6,115.3 413.1,114.6 412.1,113.8 410.9,112.8 409.9,111.9 408.7,110.4 408.0,108.9 407.5,107.9 406.7,107.1 406.1,105.9 405.6,104.8 404.6,104.1 404.0,103.3 403.1,102.2 402.2,101.4 401.4,100.6 401.0,99.6 M414.4,116.5 415.4,115.4 416.3,115.4 417.4,115.4 418.6,115.8 419.7,116.5 421.5,116.6 422.3,116.1 423.3,116.5 424.5,116.6 424.9,117.6 426.3,117.7 427.1,117.9 426.9,119.0 425.7,118.7 424.4,118.7 423.0,118.5 421.6,118.3 420.1,117.9 418.9,117.9 417.7,117.5 416.2,117.3 414.8,116.6 414.4,116.5 M424.6,116.6 426.1,116.6 426.5,116.9 424.8,117.0 424.6,116.6 M427.1,118.3 428.0,118.3 428.7,118.7 428.0,119.2 427.1,118.3 M429.1,118.7 430.1,118.5 429.8,119.4 429.1,119.2 429.1,118.7 M430.2,118.8 431.2,118.4 432.1,118.5 433.3,119.0 432.4,119.2 431.0,119.5 430.2,118.8 M434.3,119.0 435.4,118.5 436.9,118.8 438.5,118.5 438.0,119.1 435.9,119.4 434.3,119.0 M433.5,120.2 434.8,120.1 435.7,121.0 434.3,120.6 433.5,120.2 M439.5,121.3 440.7,120.1 441.9,119.4 444.4,118.8 443.4,119.4 441.6,120.3 440.0,121.4 439.5,121.3 M433.9,114.7 433.8,113.1 434.0,112.0 433.1,111.0 433.6,109.7 434.2,107.9 434.4,107.0 435.0,106.2 435.9,105.9 437.3,105.9 438.6,106.0 440.0,105.9 440.8,105.4 441.6,105.1 441.1,106.2 440.1,106.7 438.9,106.7 437.8,106.6 436.1,106.7 434.8,107.1 435.0,108.5 436.1,109.1 436.9,108.5 438.0,108.3 439.1,108.5 438.4,109.1 437.6,109.8 436.7,110.1 437.3,110.9 437.8,111.6 437.6,112.1 438.2,113.2 438.1,114.6 437.3,113.9 436.6,113.5 435.9,112.7 436.6,111.5 435.8,110.9 435.1,111.3 435.1,112.7 435.1,114.7 434.4,114.9 433.9,114.7 M445.2,104.3 445.7,105.6 446.4,106.6 445.5,107.1 446.1,108.3 445.2,108.3 444.8,106.6 445.3,105.6 445.2,104.3 M445.7,111.6 447.5,111.0 449.0,111.5 449.3,112.4 447.5,112.1 445.7,111.7 445.7,111.6 M442.7,111.5 444.1,111.6 444.4,112.3 443.0,112.4 442.7,111.5 M449.5,109.0 450.8,108.3 451.6,107.8 452.9,108.2 453.6,108.5 453.9,109.7 454.3,110.8 455.4,111.7 456.3,110.8 457.7,109.4 458.9,109.3 460.4,110.0 461.8,110.5 463.1,110.8 464.5,111.5 465.9,111.9 467.2,112.4 468.0,112.7 469.1,113.4 469.7,114.4 470.6,115.0 472.0,115.4 472.4,116.1 471.6,117.3 472.4,118.1 473.2,119.4 473.9,120.6 474.8,120.9 475.8,121.3 476.5,121.7 475.7,121.8 474.4,121.3 473.1,121.2 472.1,120.9 471.3,120.1 470.6,119.1 469.9,118.3 468.6,117.9 467.5,117.7 466.7,118.5 466.3,119.5 465.2,119.8 464.0,119.6 463.1,119.6 461.8,118.4 460.7,118.3 459.6,118.7 458.8,118.4 459.1,117.5 459.9,116.6 459.1,115.0 457.7,114.0 456.3,113.5 455.2,113.2 454.0,112.7 453.1,112.1 452.3,112.7 451.8,111.9 451.0,111.2 452.3,110.6 453.3,110.4 451.8,110.1 450.9,110.1 449.9,109.3 449.5,109.0 M473.1,114.7 474.7,114.7 475.9,114.4 477.0,113.9 478.1,113.2 478.5,114.3 477.3,114.7 476.3,115.5 474.7,115.7 473.3,115.1 473.1,114.7 M476.5,110.8 478.1,111.6 479.3,113.1 479.7,113.8 479.1,113.5 477.8,112.1 476.5,110.8 M481.6,114.3 482.7,115.1 483.5,116.5 482.5,116.5 481.6,114.3 M488.4,119.9 489.7,120.2 490.1,120.7 488.7,120.6 488.4,119.9 M489.8,118.7 490.8,119.5 491.0,120.5 490.2,119.9 489.8,118.7 M494.4,135.2 495.8,136.1 497.2,137.1 498.5,138.3 497.8,138.4 496.2,137.3 494.8,136.0 494.4,135.2 M498.8,127.8 499.6,128.5 499.1,129.5 498.5,128.5 498.8,127.8 M512.5,131.4 513.8,131.1 514.3,132.1 512.8,132.4 512.5,131.4 M514.7,129.5 516.1,129.9 515.2,130.4 514.7,129.5 M425.7,137.9 426.7,137.6 427.5,137.1 429.1,136.2 430.5,135.8 432.1,135.4 433.3,134.9 435.1,134.4 436.2,133.5 436.7,132.4 437.6,131.1 438.5,129.9 439.3,130.4 439.9,129.4 441.0,128.4 441.6,127.3 442.7,126.6 443.8,126.2 444.9,126.7 445.7,127.7 446.8,127.7 447.6,127.1 448.0,125.9 448.6,124.9 449.3,124.2 450.3,123.9 451.7,123.8 451.7,123.0 452.9,123.4 454.3,123.8 455.7,123.6 456.6,124.2 457.3,123.9 457.6,124.8 456.9,125.6 456.2,126.2 455.7,127.6 456.7,128.4 458.0,129.1 459.1,130.1 460.4,130.7 461.1,131.4 462.0,131.6 463.0,131.1 463.5,129.7 464.0,127.8 463.8,126.0 464.1,124.5 464.4,123.5 464.8,122.1 465.3,121.8 465.6,123.1 466.0,124.1 466.5,125.0 466.7,126.4 467.5,126.9 468.0,126.7 469.0,127.7 469.0,129.0 469.3,129.8 469.9,130.9 470.1,132.4 470.5,133.5 471.8,134.1 472.9,134.9 473.8,135.5 474.4,136.5 475.0,138.3 475.8,138.6 476.5,138.7 476.5,139.9 477.6,140.9 478.4,141.8 479.3,142.9 479.6,143.9 479.6,145.6 480.3,147.0 480.1,148.5 479.9,149.8 479.6,151.4 479.1,152.9 478.4,154.1 477.4,155.2 477.0,156.5 476.5,157.7 476.2,158.8 475.5,159.8 475.4,162.0 474.7,162.7 473.1,162.7 471.8,163.2 470.8,164.3 470.3,165.0 469.3,164.1 468.3,163.7 467.6,163.4 466.5,164.4 465.5,163.9 464.0,163.6 462.6,163.0 461.5,162.0 461.2,160.5 460.4,159.2 459.6,159.0 459.9,157.5 459.2,156.7 458.6,158.2 457.6,158.5 458.2,157.2 458.8,155.2 458.2,155.9 456.9,156.5 456.2,157.7 455.4,157.3 455.2,156.2 453.9,154.7 452.7,153.4 451.0,153.1 449.5,152.3 447.6,152.5 445.7,152.9 443.4,153.6 441.8,154.4 440.4,154.7 439.5,156.2 437.7,156.3 436.1,156.2 434.4,156.3 433.5,157.2 431.8,158.0 430.2,158.0 428.6,157.0 427.8,156.7 427.9,155.7 428.7,155.2 428.7,153.7 428.7,152.5 428.0,150.7 427.6,149.2 427.2,147.9 426.5,146.5 425.7,144.7 426.1,144.1 425.7,143.2 425.6,141.4 426.1,140.1 425.9,138.9 425.7,137.9 M468.0,167.8 469.3,168.0 470.6,168.5 472.0,168.1 473.1,168.1 473.1,170.0 472.7,171.2 472.0,172.3 471.0,173.1 469.9,172.9 469.0,171.1 468.3,169.4 468.0,167.8 M506.3,157.0 507.2,158.0 508.4,159.2 509.1,160.5 510.1,160.7 510.5,161.7 511.4,162.5 512.8,162.9 514.0,162.4 513.9,164.1 513.3,165.1 512.1,165.1 511.8,166.4 510.9,168.0 509.8,169.4 509.0,168.9 509.5,167.4 508.9,166.2 507.8,165.3 508.7,164.4 509.0,163.0 508.6,161.3 508.3,160.2 507.2,158.8 506.3,157.0 M506.3,167.4 507.4,168.1 508.4,168.9 508.2,170.0 507.2,171.4 506.4,172.7 505.6,173.7 504.4,174.4 503.7,175.9 503.3,177.5 502.1,178.7 500.4,178.9 499.2,178.1 498.0,177.7 498.1,176.3 499.2,175.0 500.3,173.8 501.6,173.1 502.9,172.2 504.1,171.1 504.8,169.6 505.3,168.3 506.3,167.4 M499.3,179.3 500.1,179.5 499.9,180.1 499.3,179.3 M397.4,88.6 397.8,90.2 397.4,91.5 397.2,90.2 397.4,88.6 M398.8,97.3 399.1,97.7 398.8,97.9 398.8,97.3 M349.4,134.9 349.8,135.2 349.5,135.7 349.4,134.9 M346.5,136.4 347.2,136.7 346.8,137.0 346.5,136.4 M330.2,122.8 330.5,123.5 330.1,123.4 330.2,122.8 M324.6,115.1 325.0,115.8 324.8,115.9 324.6,115.1 M343.8,90.0 344.9,89.9 345.5,90.2 344.5,90.4 343.8,90.0 M282.9,102.2 283.4,102.2 283.1,102.9 282.9,102.2 M249.8,67.4 250.3,67.5 250.2,68.0 249.8,67.4 M248.3,67.0 249.1,66.9 248.7,67.7 248.3,67.0 M251.8,66.6 252.4,66.6 252.0,67.5 251.8,66.6 M236.9,83.7 237.4,83.8 237.2,84.1 236.9,83.7 M238.9,86.2 239.3,86.5 239.1,86.8 238.9,86.2 M232.3,50.4 233.3,50.6 232.8,50.8 232.3,50.4 M247.9,60.1 248.6,60.3 248.2,60.4 247.9,60.1 M238.6,-6.7 241.4,-6.1 244.1,-5.1 246.8,-4.8 M212.8,5.2 212.1,4.4 M484.9,118.4 486.0,119.0 485.6,118.5 484.9,118.4 M469.9,41.6 471.3,41.0 472.7,39.7 474.7,37.8 476.1,36.4 478.1,34.4 480.1,32.2 481.5,30.2 482.9,28.3 483.8,27.0 M443.0,59.1 443.8,59.0 444.0,59.3 443.1,59.5 443.0,59.1 M202.6,107.9 201.2,108.9 199.9,109.4 197.8,110.2 195.8,110.2 193.7,110.8 191.7,111.6 189.7,111.6 187.6,112.0 185.6,112.1 183.5,111.9 181.5,111.6 179.5,111.2 177.4,111.9 175.4,112.5 172.7,113.2 171.6,112.4 M202.9,108.5 201.2,109.3 199.9,110.0 197.8,110.6 195.8,110.6 M186.9,95.5 184.9,96.4 182.9,96.9 180.8,97.0 179.7,98.0 M192.0,157.2 191.0,156.3 189.7,155.0 188.7,153.9 189.0,152.3 190.2,150.7 M201.6,150.4 202.2,151.7 201.1,152.8 200.6,151.8 201.6,150.4 M176.2,128.3 177.0,128.5 177.7,129.7 176.9,129.5 176.2,128.3 M154.4,90.4 155.5,91.1 155.9,92.0 154.7,91.5 154.4,90.4 M174.4,35.2 172.7,36.4 171.2,37.8 169.7,38.8 168.3,39.7 167.5,40.3 M118.0,45.1 118.6,45.5 118.5,46.4 117.8,46.0 118.0,45.1 M119.6,7.0 122.3,7.3 124.1,6.5 M131.8,11.4 132.5,12.7 131.7,12.9 131.8,11.4 M137.3,25.5 136.7,27.2 137.6,27.9 137.3,25.5 M135.2,22.4 135.5,24.4 134.8,23.1 135.2,22.4 M150.8,28.9 151.3,29.8 150.3,29.8 150.8,28.9 M170.8,26.1 172.3,27.2 171.4,26.1 170.8,26.1 M171.6,38.9 171.4,40.5 171.7,39.7 M161.2,68.9 161.6,69.3 161.2,69.5 161.1,69.2 M288.2,6.8 289.7,7.0 290.2,8.1 288.7,8.4 288.2,6.8 M290.9,8.1 291.2,10.2 290.6,9.9 290.9,8.1 M308.4,7.6 309.3,8.1 308.9,10.2 308.3,8.9 308.4,7.6 M375.0,43.4 376.7,43.1 378.0,43.6 376.5,44.0 375.0,43.4 M406.8,53.2 407.9,53.0 408.3,53.7 407.1,53.8 406.8,53.2 M329.1,50.1 330.2,49.9 330.6,50.6 329.7,50.8 329.1,50.1 M332.8,51.3 333.6,51.6 333.3,52.6 332.9,52.3 332.8,51.3 M412.3,89.2 413.2,89.7 412.9,90.2 412.3,89.2 M424.2,65.7 425.0,65.8 424.8,66.3 424.2,65.7 M429.1,65.2 429.9,65.7 429.5,66.4 429.1,65.2 M434.6,62.4 435.2,62.4 435.0,63.0 434.6,62.4 M436.2,61.7 435.0,61.2 433.5,61.1 432.4,62.0 431.2,63.1 429.7,64.7 427.8,64.2 426.4,63.8 M416.5,93.2 415.2,93.3 414.3,92.5 414.0,91.4 M394.2,76.2 393.3,75.2 392.4,74.1 391.4,73.3 M313.5,62.2 313.6,63.5 313.7,64.4 313.9,65.7 313.3,67.2 M315.9,73.8 315.5,75.6 314.2,76.8 313.7,77.2 M181.5,93.8 180.1,93.3 M187.2,90.9 187.5,90.6 M188.0,89.3 188.2,88.9 M188.3,88.5 188.4,87.9 M188.0,87.5 188.6,86.9 M187.8,86.4 187.9,85.8 M187.2,85.3 188.0,84.7 187.6,84.6 M187.1,83.8 187.4,83.6 M185.9,83.6 186.1,83.3 M190.2,89.3 190.3,89.0" fill="none" stroke="#1a1a1a" stroke-width="0.75" stroke-linejoin="round"/><path d="M293.3,112.1 294.2,109.7 295.5,107.5 296.6,105.6 298.2,104.5 300.1,104.3 302.2,104.8 304.0,105.9 305.3,106.7 305.7,108.1 M336.5,35.8 334.8,33.2 332.5,31.6 332.0,30.2 333.3,27.6 334.0,25.5 335.7,24.2 337.3,21.7 338.6,21.3 339.5,21.7 338.1,18.7 338.0,16.1 336.6,15.4 334.6,14.9 331.2,14.4 328.4,13.4 325.7,11.2 323.0,11.7 320.3,12.9 M347.2,11.2 347.9,8.1 348.2,3.5 M384.2,20.1 384.1,17.5 385.3,14.4 386.0,11.2 384.1,8.1 381.1,4.4 376.1,2.1 M364.1,9.7 364.6,6.2 365.0,2.1 M397.6,15.2 397.2,11.4 396.9,8.9 397.0,3.5 M449.8,35.8 451.7,34.4 453.6,33.0 455.0,31.8 457.0,28.7 458.4,25.5 461.1,22.8 463.1,22.4 M313.7,64.6 313.9,66.9 313.3,68.4 314.4,70.7 315.8,71.5 316.1,73.7 315.5,75.6 313.5,77.4 312.8,79.6 314.2,81.7 316.6,83.1 315.5,85.8 315.8,88.8 314.8,92.2 313.7,94.2 313.2,96.4 314.3,99.8 314.6,101.8 313.9,104.3 M256.7,94.6 258.6,92.1 261.1,90.2 263.8,88.3 265.9,86.0 267.2,84.1 270.6,84.7 272.0,86.2 274.0,88.6 276.1,91.3 277.8,94.3 279.5,96.4 280.3,98.4 279.9,100.2 M280.4,96.6 282.9,96.8 285.6,95.5 288.3,94.6" fill="none" stroke="#333" stroke-width="0.6" stroke-dasharray="1.6 0.8"/><path d="M82.9,7.0 84.9,8.6 86.5,10.4 87.9,12.7 89.3,15.2 90.6,17.1 92.0,18.5 93.3,19.9 94.4,21.7 95.8,23.5 96.9,25.3 97.8,26.8 99.2,28.1 100.8,29.3 102.2,30.4 103.5,31.0" fill="none" stroke="#1a1a1a" stroke-width="2.6" stroke-linejoin="round" stroke-linecap="round" opacity="0.85"/><path d="M171.2,169.2 170.8,172.0 170.3,174.4 169.8,176.9 169.3,179.3 169.0,181.7 169.1,184.7 169.4,187.5 169.9,190.1 171.2,192.3 172.7,194.2 174.4,195.5 176.1,196.7 177.4,197.7" fill="none" stroke="#1a1a1a" stroke-width="2.4" stroke-linejoin="round" stroke-linecap="round" opacity="0.85"/><path d="M177.4,197.7 178.8,198.1 179.7,198.9 180.8,197.4 182.5,196.7" fill="none" stroke="#1a1a1a" stroke-width="1.6" stroke-linejoin="round" stroke-linecap="round" opacity="0.85"/><path d="M86.0,9.4 87.6,11.9 89.0,14.7 90.3,16.6 91.4,18.0" fill="none" stroke="#1a1a1a" stroke-width="3.4" stroke-linejoin="round" stroke-linecap="round" opacity="0.85"/><path d="M135.7,9.8L137.4,10.2M154.0,16.7L153.9,17.4M116.3,7.7L115.2,8.3M121.0,12.2L119.3,12.5M180.0,14.4L180.8,14.7M165.9,18.6L165.6,19.7M147.7,14.1L146.6,15.7M152.5,33.2L153.6,34.6M144.3,29.6L144.3,30.4M172.1,23.0L173.3,24.8M166.9,23.8L167.1,25.4M179.2,35.6L178.5,36.8M177.7,13.8L177.1,14.9M124.0,8.6L123.5,9.1M121.2,12.9L120.0,13.4M156.0,33.7L154.1,34.6M133.4,18.5L132.3,18.9M124.4,12.2L124.5,13.2M140.9,22.8L139.7,24.6M151.4,25.2L153.1,25.5M184.6,30.1L182.9,31.4M142.3,17.8L142.0,18.5M114.7,7.0L115.5,7.5M137.6,6.6L138.2,6.9M130.1,16.2L131.2,16.7M147.9,20.8L148.6,21.1M137.2,13.2L139.0,14.2M153.9,36.4L152.7,38.1M131.7,16.8L131.1,17.4M153.2,30.3L154.1,31.1M180.6,30.9L179.2,32.3M128.0,22.0L129.2,22.1M189.5,19.7L187.3,19.8M187.9,16.7L188.7,17.4M126.9,11.5L125.3,12.0M179.6,20.3L178.2,21.3M184.5,29.9L184.7,31.8M190.3,18.0L189.0,18.2M169.1,10.4L169.8,10.8M184.6,31.4L183.8,31.8M138.3,23.1L139.1,23.1M190.3,26.3L188.9,26.6M144.8,33.2L146.4,34.4M130.8,14.2L130.5,15.2M131.7,18.7L130.9,18.9M139.8,19.9L138.3,20.4M150.4,22.5L151.9,22.6M169.5,22.8L169.4,23.9M155.6,30.5L155.5,31.3M130.4,13.2L130.4,15.1M155.9,29.0L156.3,31.1M152.1,27.2L151.9,28.5M150.0,35.7L148.4,36.4M188.0,13.4L186.5,13.7M178.8,9.1L179.0,9.9M174.6,34.3L174.0,34.9M165.2,9.6L163.1,9.8M143.6,20.5L141.7,21.7M152.0,15.8L152.5,16.6M169.1,4.9L169.4,6.4M174.4,36.8L174.9,37.4M132.8,9.1L131.5,9.5M177.6,13.4L176.7,13.6M156.4,28.0L157.2,28.2M166.8,19.0L166.1,19.1M162.4,31.3L161.7,31.6M148.0,16.0L146.5,16.4M131.4,8.8L132.5,9.8M118.7,10.1L119.3,10.5M135.0,14.3L136.2,15.8M137.9,5.6L139.0,5.6M170.1,22.7L170.1,23.6M177.8,18.9L176.5,19.6M143.1,21.7L141.3,21.8M167.7,25.4L168.2,26.6M114.7,9.0L114.2,9.5M131.3,10.2L130.6,10.6M181.0,26.8L181.8,27.5M134.0,19.7L134.1,20.6M190.3,23.0L189.3,23.1M135.3,16.5L135.5,17.0M148.9,21.1L148.9,22.1M113.0,5.4L113.8,6.1M158.5,21.6L157.6,23.3M168.4,33.5L169.0,34.5M169.7,26.1L169.1,26.4M183.9,25.2L182.4,26.2M152.2,32.0L150.5,33.1M158.4,33.7L157.4,35.2M128.7,5.7L129.0,6.4M156.2,25.0L155.4,26.4M175.5,29.0L175.3,30.4M163.4,6.5L164.7,7.8M170.7,11.7L168.9,11.8M150.9,17.0L150.1,18.2M172.1,25.2L173.7,25.6M121.6,12.6L122.6,14.1M164.6,27.1L165.6,28.5M151.7,20.1L153.0,20.6M184.4,11.4L182.2,11.8M176.8,36.4L177.7,37.5M177.9,20.9L176.6,22.6M146.8,14.6L147.2,15.3M179.5,8.1L178.1,9.8M183.7,14.0L184.1,15.1M139.1,19.0L140.1,19.2M129.8,13.4L131.1,14.2M183.3,31.6L181.7,32.0M186.2,23.0L188.0,23.3M170.5,19.0L169.6,20.7M132.5,6.2L134.5,7.0M149.1,15.9L148.3,16.7M163.5,14.2L164.0,15.7M124.2,10.2L123.3,10.5M125.2,7.8L126.3,8.2M130.3,13.3L128.9,13.8M171.5,18.0L171.4,19.3M140.7,15.9L141.1,16.4M150.5,25.1L152.1,26.4M132.1,12.6L132.3,13.8M181.8,5.5L181.4,6.0M182.6,20.6L184.2,20.6M176.9,32.4L178.5,34.0M119.3,9.5L118.5,10.7M187.8,28.2L186.6,29.4M147.8,23.0L147.2,23.4M162.6,14.7L163.2,15.3M161.8,28.0L162.6,28.1M152.5,23.8L153.5,24.6M135.2,19.2L134.2,21.2M182.1,20.3L182.8,21.0M188.2,28.2L189.3,28.3M150.4,26.8L151.3,27.7M164.2,35.5L165.2,35.6M137.0,18.4L138.4,19.4M174.8,29.0L175.9,29.8M177.6,12.3L176.9,13.0M129.2,18.6L127.5,18.9M121.5,6.4L121.8,7.0M186.8,15.8L185.9,16.0M170.9,5.2L171.5,6.9M140.2,15.9L141.1,16.0M131.9,16.2L134.0,17.0M177.4,18.9L177.4,19.6M124.8,16.9L126.9,17.1M142.7,31.7L144.6,31.9M112.1,6.3L113.6,7.8M170.9,34.2L171.7,35.1M188.9,25.0L188.2,25.8M136.2,13.9L135.7,14.3M184.1,25.8L186.2,26.0M130.3,20.5L128.1,20.8M141.7,12.6L141.7,13.9M186.8,10.3L185.4,11.8M177.0,29.8L177.9,31.2M135.3,16.7L137.1,17.2M130.3,6.8L130.2,7.5M131.7,7.4L131.7,8.2M168.1,19.3L168.3,20.2M161.7,26.8L160.0,27.7M163.9,8.2L165.1,9.8M170.2,11.2L170.9,11.9M175.2,26.2L177.4,26.9M149.9,31.8L148.0,32.3M120.1,10.2L119.5,12.3M186.1,16.3L186.4,18.3M158.7,25.0L159.1,25.9M121.8,11.2L121.4,12.2M163.3,11.4L163.6,12.0M165.2,10.8L166.1,11.4M174.9,23.0L175.5,23.2M141.6,22.9L143.2,23.4M144.2,14.3L143.0,14.4M135.5,23.1L135.8,24.3M139.1,11.0L140.6,12.1M145.3,31.8L144.1,32.3M162.7,34.7L162.4,35.4M140.1,21.3L140.7,22.0M152.7,35.1L152.7,35.9M175.6,36.7L176.4,37.1M186.3,16.8L185.6,18.8M176.9,9.7L178.4,10.9M142.3,32.4L144.0,33.5M127.6,17.5L128.2,18.9M121.0,12.9L119.2,13.4M171.2,5.9L173.1,6.6M144.8,23.6L144.1,24.8M146.8,19.2L146.5,19.8M172.0,30.4L173.2,31.1M162.9,7.1L161.5,8.3M150.3,17.0L152.3,17.9M170.5,31.9L169.6,31.9M149.4,36.0L151.3,37.1M174.5,35.4L174.8,36.0M171.3,9.4L172.7,11.0M177.6,9.6L176.2,9.9M126.7,13.1L127.5,14.3M166.1,34.3L165.4,34.8M182.3,23.0L180.8,23.6M175.7,12.6L175.1,14.8M139.0,29.9L140.1,30.6M170.3,5.9L171.7,7.3M157.5,26.9L158.6,26.9M151.7,34.3L152.4,34.8M163.4,5.5L163.7,6.0M130.1,9.6L129.8,10.3M181.0,30.3L181.9,31.3M163.7,18.8L162.2,20.5M143.6,12.6L143.0,13.1M150.7,25.7L152.4,26.7M135.7,14.8L135.0,15.0M174.5,28.5L173.9,28.8M171.0,19.4L171.2,21.3M128.0,8.4L129.0,8.5M166.4,32.2L167.6,33.6M155.5,18.4L155.3,20.4M181.8,5.2L182.5,5.9M170.5,35.4L171.5,37.0M182.7,15.7L181.7,16.0M162.6,27.8L160.9,27.9M149.3,32.3L147.7,33.1M145.4,28.3L146.3,29.6M122.2,5.8L121.5,6.0M138.0,9.6L138.6,9.7M167.4,25.3L166.2,26.6M177.5,34.3L176.9,34.6M118.4,11.7L119.2,11.8M180.2,31.4L178.8,32.2M117.4,7.7L118.9,8.8M135.9,18.8L136.4,19.2M140.2,14.5L140.2,16.7M179.7,25.1L179.9,25.7M146.1,30.0L145.4,31.0M179.8,7.5L181.6,8.5M172.5,37.0L172.5,37.6M150.3,30.8L150.3,31.8M133.3,11.2L133.3,13.0M166.8,30.2L167.5,31.7M141.9,17.7L143.9,18.3M182.5,5.5L183.2,6.2M184.5,21.3L183.3,21.8M129.7,19.7L128.6,20.7M171.4,25.8L172.1,26.8M164.2,29.0L164.4,29.9M173.4,23.7L173.5,24.5M182.3,12.5L182.9,13.2M167.3,32.6L168.0,33.0M129.7,15.4L131.0,16.1M137.6,10.4L136.2,12.1M170.3,18.9L169.9,19.8M118.1,11.7L119.4,11.9M142.7,30.2L142.7,32.0M143.0,28.4L143.4,30.5M156.6,29.3L157.6,30.2M169.8,33.3L168.7,34.8M179.8,26.6L180.0,28.3M135.6,25.4L135.8,26.1M173.6,27.9L174.7,29.1M144.5,19.2L145.0,20.8M165.6,35.3L165.2,36.1M174.5,17.8L173.1,17.9M187.2,21.8L187.0,22.5M154.7,28.0L154.1,29.3M178.6,22.1L177.3,22.3M142.6,30.1L141.8,30.2M139.0,6.4L139.3,7.4M144.1,27.6L144.9,28.5M187.5,22.1L186.7,22.7M142.5,11.7L141.8,12.3M176.5,25.2L176.2,26.6M139.8,25.5L138.1,26.6M147.7,14.4L149.1,15.0M177.7,15.9L179.0,17.5M140.3,13.0L141.4,13.7M133.0,12.5L133.1,13.6M144.8,25.2L145.5,26.8M184.6,30.7L183.9,31.1M162.2,5.4L161.6,5.5M163.4,13.1L164.1,13.4M139.3,9.4L137.6,10.7M160.7,30.5L159.1,31.1M174.9,32.3L174.4,33.1M154.2,29.2L152.9,29.7M128.5,9.5L129.9,9.7M151.0,21.1L149.6,21.8M149.1,23.1L147.6,24.0M139.7,18.6L141.8,19.1M162.3,25.7L162.1,26.3M166.6,35.7L165.4,35.8M150.8,20.9L152.9,21.1M169.4,25.4L168.4,25.9M140.6,20.2L139.5,21.2M127.4,18.7L127.2,20.0M177.5,13.7L178.1,15.6M152.2,36.7L150.8,37.7M137.3,14.9L137.0,16.0M162.3,30.6L161.8,31.1M182.4,22.7L182.8,23.3M186.2,24.6L184.9,25.6M184.9,24.4L184.3,25.9M166.4,24.1L167.8,25.2M163.8,19.8L165.6,20.4M125.8,6.0L123.9,6.5M164.6,16.6L163.0,17.8M134.6,18.4L134.9,19.5M162.7,35.5L162.6,36.2M176.3,22.9L176.6,25.1M158.5,34.8L158.6,37.1M122.6,5.3L122.3,5.8M119.9,5.0L121.2,6.2M170.4,11.0L169.9,11.4M167.6,33.0L169.4,33.5M162.2,28.3L160.9,28.6M169.0,5.1L168.7,5.7M177.4,7.2L176.6,8.1M140.5,23.4L139.8,24.5M139.6,25.5L140.0,27.1M142.5,30.3L140.8,31.6M167.9,31.8L167.5,32.9M145.5,33.8L144.8,34.8M158.7,33.8L160.0,35.3M145.6,24.0L143.7,24.7M176.1,33.0L177.1,34.2M180.6,31.4L178.9,31.9M139.1,7.3L137.8,8.3M186.8,12.0L186.0,13.4M175.2,20.0L174.6,20.4M174.1,12.4L172.6,12.9M182.8,21.5L182.4,22.9M125.8,11.0L125.2,11.7M139.8,23.0L139.7,24.3M121.8,5.4L122.7,7.5M174.2,9.4L174.9,10.9M180.5,20.5L181.6,21.6M174.7,18.3L173.1,19.8M176.6,36.7L177.7,36.9M126.1,10.9L126.8,11.0M156.4,33.6L155.0,33.8M131.9,23.5L130.3,23.7M164.3,17.6L165.5,18.3M127.9,5.8L128.4,6.7M179.2,5.8L178.1,7.3M171.4,35.3L172.4,36.7M158.3,29.7L158.7,30.3M130.5,8.7L131.7,9.5M128.7,9.7L130.4,9.8M169.1,11.4L168.5,11.5M181.0,33.9L181.1,34.7M178.7,25.1L179.4,26.3M176.7,20.4L178.2,21.1M128.3,6.0L128.0,7.8M131.6,18.3L132.1,18.9M178.8,15.6L178.9,16.5M164.4,11.4L165.2,12.5M131.7,11.6L130.5,11.7M182.9,6.2L184.0,7.6M175.8,16.2L176.6,16.3M178.2,21.9L178.3,22.8M184.1,11.9L185.5,12.5M168.0,11.4L168.7,11.6M133.0,11.1L132.0,12.5M176.1,24.1L177.0,24.3M169.2,18.3L171.0,18.6M177.4,15.6L175.5,16.5M183.9,20.0L185.3,21.5M140.3,9.8L139.9,11.0M146.8,21.7L146.3,22.3M177.3,33.1L176.6,34.0M141.6,29.7L140.9,29.9M188.3,20.6L188.2,22.1M125.4,8.1L124.5,8.7M167.4,11.1L167.2,11.7M156.4,22.0L158.1,22.5M181.0,28.5L181.6,28.8M150.0,21.3L151.0,21.7M158.6,33.0L158.4,33.8M172.2,10.2L170.2,10.6M142.0,17.9L141.8,19.9M173.5,15.7L174.0,16.6M176.8,34.7L175.1,35.6M130.1,18.2L130.8,19.7M145.2,21.5L145.8,21.8M187.8,25.5L185.9,26.2M182.0,5.5L183.1,6.8M166.4,13.8L164.9,14.2M152.0,18.4L153.4,20.2M135.2,26.0L134.9,26.8M188.3,21.4L188.5,22.5M120.0,8.8L120.3,9.9M133.7,12.7L133.6,13.4M179.2,24.4L178.5,25.8M147.7,22.3L147.9,23.9M135.5,12.5L135.4,13.5M141.3,24.1L141.6,24.6M180.7,12.1L180.7,13.6M122.8,6.2L123.2,8.2M145.8,29.0L146.4,29.5M188.5,29.0L188.9,29.8M139.6,26.9L138.2,27.7M178.0,21.4L176.7,22.8M172.9,19.9L171.7,21.4M184.0,9.2L186.0,9.2M173.5,24.2L172.1,24.4M138.3,31.5L138.7,32.6M120.6,18.7L121.4,19.7M117.5,21.9L117.9,22.6M138.6,30.8L138.8,31.8M106.8,14.1L106.7,14.7M141.1,30.5L142.3,31.4M97.6,5.9L97.6,7.0M124.2,20.5L124.6,21.6M116.4,23.4L115.6,23.5M118.8,22.2L117.7,22.6M120.0,23.7L120.7,25.1M124.9,30.0L125.3,30.5M105.3,13.5L105.3,14.5M107.2,10.1L106.8,11.2M123.5,21.8L123.2,22.5M102.8,9.6L104.1,10.1M102.7,10.0L101.9,10.6M129.3,30.0L129.7,30.0M106.2,13.2L105.7,13.3M121.1,16.9L120.6,17.0M120.0,24.2L120.6,24.3M109.4,16.7L110.4,17.5M122.4,29.4L123.0,29.8M115.4,12.3L115.8,12.8M109.3,5.6L109.9,6.6M101.3,13.1L102.6,13.6M116.1,12.3L116.9,13.0M124.5,21.6L123.9,22.1M117.1,24.9L117.7,25.8M115.8,20.4L116.5,20.6M113.7,11.8L113.3,12.2M112.5,17.0L111.4,18.0M143.6,31.5L144.0,31.9M118.4,25.0L119.3,25.9M98.9,6.1L99.4,6.4M112.9,16.6L113.2,17.0M119.6,26.2L120.5,26.2M136.3,30.6L137.0,30.8M136.1,30.2L136.2,31.3M119.0,20.6L120.4,21.2M134.3,29.6L134.2,30.3M99.4,27.4L99.9,27.8M139.7,39.3L140.0,39.6M105.0,35.3L104.6,35.6M130.1,42.7L129.9,43.1M143.4,45.4L143.6,45.7M99.9,24.5L99.6,24.9M115.9,31.7L116.4,31.9M100.8,14.1L100.1,14.8M102.5,32.4L103.0,32.7M153.4,38.4L152.7,38.6M107.9,38.1L107.1,38.3M147.3,42.1L147.7,42.4M119.1,34.8L118.6,35.1M131.4,37.5L130.9,38.2M126.5,32.8L126.8,33.1M101.3,15.3L101.8,15.7M148.0,46.1L148.2,46.9M113.5,38.8L113.6,39.5M117.3,30.5L116.7,30.9M114.2,30.5L114.5,31.1M116.5,31.4L115.6,31.6M149.8,50.6L149.5,51.5M138.0,36.9L137.9,37.4M117.2,47.5L117.4,47.7M101.4,38.8L101.2,39.4M121.7,33.8L121.9,34.5M103.2,20.4L103.0,21.3M126.4,34.8L126.3,35.3M102.7,33.4L103.4,33.6M123.5,46.5L123.0,47.1M110.7,28.0L110.6,28.3M109.1,25.0L109.3,25.8M151.2,37.2L151.0,38.1M153.0,46.9L152.7,47.2M117.5,42.8L116.8,43.2M104.0,28.1L103.2,28.2M130.2,44.5L129.8,44.6M108.1,30.5L107.9,31.4M107.6,34.9L107.3,35.3M138.3,44.7L139.2,44.7M126.7,47.1L127.5,47.2M150.0,37.1L150.2,37.4M106.6,27.4L106.4,28.0M98.6,19.3L99.1,19.8M113.0,32.8L112.9,33.2M128.3,50.3L129.2,50.4M131.1,43.0L130.4,43.6M135.1,37.9L135.4,38.3M145.6,46.8L145.1,47.6M114.9,42.6L114.8,43.4M100.0,26.8L99.5,26.8M123.9,30.6L124.3,31.2M114.8,25.3L114.6,26.1M101.3,20.8L100.6,20.8M126.1,67.4L125.4,67.7M113.7,50.5L114.4,51.2M128.8,48.4L128.0,48.8M124.8,46.2L124.8,46.8M157.0,62.8L157.8,63.5M123.8,66.3L124.1,67.2M145.4,52.9L145.5,53.4M124.1,58.0L124.7,58.6M159.9,60.5L161.0,60.7M141.1,65.8L141.8,66.0M113.0,46.6L114.0,46.8M153.8,55.6L153.5,56.4M137.6,63.3L138.1,64.1M149.6,50.2L148.8,50.8M151.8,52.2L150.8,52.2M132.0,51.1L131.2,51.3M132.8,63.2L133.2,64.1M105.7,46.2L105.7,46.7M137.6,47.5L138.1,48.5M113.6,47.7L112.6,48.0M163.7,58.1L164.1,58.9M153.1,57.1L152.5,57.3M128.6,70.3L128.5,70.7M129.2,71.8L128.8,72.9M117.6,50.0L117.7,50.6M118.3,48.3L117.9,49.2M117.5,60.7L117.0,60.9M121.6,52.8L120.9,53.1M140.9,56.8L140.1,57.1M125.5,67.4L126.4,68.0M109.5,47.4L110.4,47.7M125.2,72.1L124.3,72.5M117.8,68.1L118.8,68.2M134.4,49.5L135.1,49.8M292.6,14.3L292.7,15.0M285.7,9.4L285.2,10.1M285.4,12.9L286.5,13.3M293.8,9.7L294.5,11.2M314.9,12.8L315.7,13.3M290.6,5.4L290.6,6.1M295.8,11.1L296.8,11.1M307.6,11.6L307.4,12.8M314.7,12.4L315.3,13.3M295.0,9.0L296.0,9.5M320.6,4.9L319.3,5.2M289.8,11.4L290.6,12.1M288.6,5.8L287.3,6.8M316.0,4.9L316.7,6.2M306.3,11.0L305.4,11.1M314.8,10.6L313.5,10.6M289.1,11.2L289.7,12.6M308.7,8.8L308.3,9.9M307.2,7.9L307.0,9.2M289.4,11.6L288.5,11.9M298.9,12.3L299.0,13.5M288.9,5.7L288.8,7.4M300.4,10.3L301.5,11.3M287.1,13.5L286.6,14.6M362.1,29.1L363.2,29.2M338.1,27.3L339.1,27.7M326.2,11.6L326.4,12.0M361.0,19.0L361.7,19.2M355.8,16.9L355.2,17.3M358.8,8.6L359.2,9.5M346.0,11.1L346.3,11.7M338.6,5.2L338.5,5.7M320.8,9.5L321.4,10.2M335.0,11.4L336.0,11.7M352.3,28.0L352.4,28.4M360.5,21.6L361.1,21.7M341.6,14.5L342.2,15.3M339.8,22.0L340.3,23.0M338.3,20.3L339.3,20.9M370.6,23.9L370.3,24.5M335.6,6.5L336.0,7.4M346.8,18.0L346.0,18.8M342.8,17.0L343.1,18.0M343.6,28.7L343.6,29.4M345.9,26.9L345.3,27.6M339.8,5.6L339.6,6.5M359.4,25.7L359.7,25.9M323.6,6.9L323.4,7.9M356.5,17.9L356.3,18.2M341.1,20.4L340.1,21.1M365.1,8.6L365.1,9.2M332.6,11.9L333.0,12.3M398.5,18.5L398.8,19.3M362.8,12.3L361.8,13.0M398.3,11.4L398.8,11.5M384.1,14.0L384.2,14.7M385.8,13.8L386.7,14.5M401.3,18.8L401.5,19.0M383.8,14.9L384.2,15.6M372.5,24.7L372.1,25.1M396.5,19.7L395.7,19.9M380.0,26.8L380.1,27.1M388.2,6.1L389.3,6.4M386.9,8.9L386.7,10.1M396.3,17.0L395.8,17.9M372.8,10.0L373.8,10.5M401.1,10.1L401.5,10.2M395.5,28.5L395.1,29.1M391.0,8.7L390.8,9.0M373.0,10.4L373.5,11.2M384.9,8.3L385.5,9.4M398.4,8.8L397.3,8.8M377.8,5.5L377.5,6.1M370.0,18.4L370.1,18.8M392.3,15.6L393.2,15.9M397.9,8.0L396.7,8.1M402.1,17.9L402.4,18.4M393.2,17.2L394.4,17.6M381.9,26.2L381.8,27.0M364.2,8.4L363.7,8.6M397.4,10.6L398.7,10.7M387.3,29.1L386.6,29.2M389.5,5.9L389.6,6.6M371.3,23.4L370.9,23.7M373.0,6.6L373.8,6.9M384.8,24.3L384.9,25.1M364.4,21.0L364.3,21.4M375.5,14.1L376.3,14.6M374.9,25.5L375.0,26.6M366.2,7.1L367.3,7.6M382.3,18.2L382.3,18.6M367.2,18.0L367.5,18.8M368.7,15.0L369.1,15.2M371.2,26.7L370.4,26.9M382.2,24.4L381.7,25.1M370.2,23.6L370.5,23.9M366.8,34.9L367.8,35.1M372.0,33.4L371.4,33.9M381.3,29.3L381.1,29.7M374.3,44.2L374.7,45.0M387.8,39.1L388.9,39.1M397.4,37.8L398.0,38.0M347.3,45.4L348.0,45.8M354.6,31.2L355.0,31.5M365.0,39.8L364.1,40.1M384.2,43.1L384.0,43.5M391.0,46.7L390.8,47.0M355.4,31.4L354.9,32.4M384.2,31.1L383.2,31.3M395.5,45.6L394.8,46.2M372.9,38.1L372.1,38.7M392.8,34.6L392.6,35.7M398.5,30.4L397.7,31.1M347.9,48.0L348.3,48.3M363.3,33.6L362.6,33.8M379.6,44.9L379.1,45.2M387.6,44.1L386.7,44.7M359.6,29.9L358.9,30.3M354.8,42.0L354.1,42.6M331.1,30.2L331.3,31.1M373.3,38.8L373.8,39.2M355.2,48.0L355.7,48.6M336.3,34.1L336.4,34.9M377.7,47.2L377.5,47.5M343.0,34.0L343.5,35.0M398.8,65.7L398.8,66.5M411.7,58.7L412.9,59.5M406.9,52.9L407.9,52.9M392.6,64.3L392.9,64.9M379.0,59.3L378.9,60.6M409.9,61.8L409.8,62.2M392.5,66.9L392.1,67.6M399.9,56.4L399.4,57.2M410.8,58.9L410.0,59.0M402.0,59.7L401.4,60.3M409.2,63.1L410.3,63.2M388.3,52.2L387.0,52.7M380.2,60.5L381.1,60.6M390.0,63.1L390.6,63.9M404.6,54.8L404.9,55.7M413.5,61.2L412.8,62.2M402.4,62.3L403.0,62.6M397.2,64.3L397.7,65.4M379.9,59.0L381.0,59.6M403.4,53.0L404.1,53.1M387.3,56.8L385.9,57.0M381.8,55.2L382.8,56.0M387.3,57.7L387.7,58.1M389.9,56.4L390.8,57.4M393.0,64.7L392.2,65.4M387.2,52.2L387.3,53.3M396.4,61.6L397.2,62.5M395.3,54.8L396.0,55.6M405.2,50.1L405.0,51.3M385.4,54.1L385.3,54.6M404.7,62.0L404.1,62.4M379.9,55.5L378.8,55.6M399.5,61.9L399.9,63.0M411.6,63.0L411.8,63.7M406.7,56.2L406.2,56.4M396.2,59.2L395.2,59.5M380.1,55.9L380.3,56.3M394.7,64.8L394.5,65.9M391.0,60.2L390.4,60.5M405.9,64.9L405.6,65.3M444.2,30.9L443.3,31.2M443.5,43.0L442.7,43.3M407.8,38.4L407.5,39.2M416.3,14.4L415.6,14.8M415.6,20.0L416.1,20.2M446.1,25.6L446.9,25.8M448.7,24.2L448.6,24.5M408.0,22.3L408.1,22.6M432.3,42.6L432.0,42.8M406.2,20.2L406.6,20.9M419.4,33.5L419.0,33.7M412.2,43.4L412.1,44.4M424.8,14.1L424.3,14.7M434.0,26.9L433.8,27.5M413.6,44.7L412.7,45.3M455.2,24.4L456.3,24.6M427.9,16.8L427.5,17.4M440.9,29.1L441.3,29.4M423.5,22.6L423.2,22.9M430.1,28.5L429.8,28.9M411.6,21.8L411.2,22.4M456.9,40.3L455.9,40.5M441.8,39.2L442.0,39.4M441.8,35.7L442.0,36.2M409.2,35.6L409.8,36.5M402.8,18.6L402.3,18.7M446.5,29.2L446.8,29.4M409.3,41.5L408.6,41.6M427.4,43.2L427.8,43.3M432.5,31.1L432.8,31.5M442.9,26.4L442.1,26.8M260.8,56.1L260.6,56.6M280.7,55.6L279.9,56.3M287.2,59.0L287.0,60.1M300.1,147.6L299.8,148.3M266.3,80.0L266.7,81.1M260.2,75.6L260.0,76.4M300.5,129.2L301.3,129.3M307.8,60.3L308.1,61.0M304.0,129.7L303.7,130.2M305.6,104.5L305.1,104.6M298.2,61.6L297.6,61.6M268.7,95.9L267.9,96.5M300.5,132.8L300.9,132.9M324.0,121.6L324.8,122.5M261.8,56.8L262.7,57.1M294.6,140.9L294.3,141.6M297.3,138.9L297.8,139.0M293.3,85.5L294.0,85.6M310.0,57.2L309.2,57.8M286.3,67.5L287.0,68.1M284.4,66.0L284.2,67.2M278.6,64.6L277.8,65.1M207.2,103.3L207.6,103.9M203.6,107.5L202.7,107.6M168.9,104.2L168.6,105.1M191.1,133.4L190.9,134.1M186.8,169.6L186.3,169.7M186.9,154.8L187.3,155.3M182.4,122.3L182.5,122.8M202.6,118.0L202.7,118.6M181.9,160.3L181.0,160.7M204.9,140.1L204.5,140.3M180.7,147.9L180.6,148.6M192.0,150.2L191.1,150.3M185.8,172.6L184.9,172.7M444.3,128.4L443.8,128.6M441.0,130.4L440.2,130.4M448.2,137.2L447.7,137.9M473.4,149.9L473.8,150.3M441.1,147.5L441.4,147.8M483.6,145.4L483.2,146.1M466.6,147.7L467.2,147.9M442.7,120.4L443.3,120.7M445.4,139.3L444.8,140.2M289.0,189.9L289.4,190.1M294.5,166.2L294.6,166.9M393.7,191.9L394.1,192.4M241.4,152.2L242.1,152.5M358.4,178.0L358.9,178.3M60.0,73.2L60.3,74.0M166.7,139.7L167.2,139.8M33.3,179.3L32.9,179.4M106.5,161.0L106.2,161.3M82.6,111.2L83.1,111.4M82.0,171.2L82.2,171.7M190.4,91.2L190.8,91.5M110.6,110.8L110.7,111.5M212.9,66.9L212.3,67.2M79.0,64.0L79.6,64.2M126.4,159.5L126.8,159.7M130.7,84.1L130.7,84.6M54.8,69.2L54.9,69.8M226.5,137.5L226.8,137.8M186.7,138.8L185.9,138.8M210.2,75.0L210.1,75.8M80.1,83.7L80.6,84.1M47.4,96.8L47.5,97.5M183.4,70.2L183.7,70.7M72.9,152.7L73.4,152.9M236.4,127.4L236.9,127.4M167.1,131.8L167.1,132.3M185.5,135.0L185.5,135.4M466.7,151.0L466.3,151.3M503.8,163.3L504.2,164.0M499.4,85.2L499.2,85.7M498.9,71.4L499.4,71.5M448.5,79.5L448.1,79.8M464.3,191.3L464.0,191.8M401.4,192.5L401.4,193.0M456.6,192.8L456.0,192.8M468.0,90.1L468.7,90.5M510.2,123.9L509.7,124.0M435.5,116.7L435.3,117.2M402.7,112.2L402.3,112.5M400.0,144.8L400.1,145.3M461.6,159.5L462.0,159.8M413.0,194.3L413.5,194.5M457.0,141.3L457.9,141.5M425.7,83.1L425.8,83.8M445.3,184.2L444.7,184.5M55.8,103.8L57.0,104.2M81.1,119.2L82.1,120.2M36.9,111.3L38.1,111.5M36.3,125.4L36.7,126.6M33.1,133.7L33.5,135.1M59.2,126.8L60.8,127.2M62.4,127.9L63.6,128.5M65.2,128.7L66.8,129.3M68.7,130.0L70.3,130.4M71.8,130.7L73.2,131.3M74.8,132.1L76.2,132.9M77.9,133.7L79.1,134.3M81.0,135.5L82.0,136.1M84.0,137.2L85.0,137.8M54.0,130.9L55.0,131.1M44.5,136.9L45.5,137.1M66.5,145.9L67.5,146.1M97.6,146.9L98.4,147.1M42.6,94.9L43.4,95.1M39.6,98.9L40.4,99.1M489.4,91.8L490.6,92.2M496.4,96.8L497.6,97.2M502.4,102.8L503.6,103.2M469.5,89.9L470.5,90.1M479.5,99.9L480.5,100.1M509.7,111.5L510.3,112.5M511.5,125.7L512.5,126.3" stroke="#222" stroke-width="0.95" stroke-linecap="round" fill="none"/>
<circle cx="111.8" cy="59.9" r="2.70" fill="none" stroke="#ff0000" stroke-width="0.8"/>
<circle cx="118.5" cy="59.1" r="2.50" fill="none" stroke="#ff0000" stroke-width="0.8"/>
<circle cx="159.9" cy="45.2" r="2.20" fill="none" stroke="#0000ff" stroke-width="0.8"/>
<circle cx="168.7" cy="47.7" r="2.20" fill="none" stroke="#0000ff" stroke-width="0.8"/>
<circle cx="158.6" cy="48.4" r="2.80" fill="none" stroke="#ff0000" stroke-width="0.8"/>
<circle cx="167.9" cy="53.7" r="2.80" fill="none" stroke="#ff0000" stroke-width="0.8"/>
<circle cx="152.9" cy="54.1" r="2.80" fill="none" stroke="#ff0000" stroke-width="0.8"/>
<circle cx="161.4" cy="55.6" r="2.80" fill="none" stroke="#ff0000" stroke-width="0.8"/>
<circle cx="156.3" cy="58.7" r="2.80" fill="none" stroke="#ff0000" stroke-width="0.8"/>
<circle cx="161.0" cy="64.0" r="2.80" fill="none" stroke="#ff0000" stroke-width="0.8"/>
<circle cx="163.8" cy="71.4" r="2.00" fill="none" stroke="#ff0000" stroke-width="0.8"/>
<circle cx="159.0" cy="75.0" r="2.70" fill="none" stroke="#0000ff" stroke-width="0.8"/>
<circle cx="281.7" cy="31.3" r="2.90" fill="none" stroke="#ff0000" stroke-width="0.8"/>
<circle cx="288.2" cy="14.9" r="2.50" fill="none" stroke="#ff0000" stroke-width="0.8"/>
<circle cx="303.5" cy="12.2" r="2.90" fill="none" stroke="#ff0000" stroke-width="0.8"/>
<circle cx="302.4" cy="35.0" r="2.70" fill="none" stroke="#ff0000" stroke-width="0.8"/>
<circle cx="323.6" cy="32.5" r="2.70" fill="none" stroke="#ff0000" stroke-width="0.8"/>
<circle cx="320.5" cy="61.4" r="2.60" fill="none" stroke="#ff0000" stroke-width="0.8"/>
<circle cx="304.5" cy="51.0" r="4.20" fill="none" stroke="#ff0000" stroke-width="0.8"/>
<circle cx="247.3" cy="88.6" r="2.70" fill="none" stroke="#ff0000" stroke-width="0.8"/>
<circle cx="273.2" cy="100.6" r="2.70" fill="none" stroke="#ff0000" stroke-width="0.8"/>
<circle cx="265.6" cy="100.2" r="3.00" fill="none" stroke="#0000ff" stroke-width="0.8"/>
<circle cx="313.4" cy="149.4" r="2.20" fill="none" stroke="#ff0000" stroke-width="0.8"/>
<circle cx="365.7" cy="45.7" r="2.70" fill="none" stroke="#ff0000" stroke-width="0.8"/>
<circle cx="373.1" cy="61.4" r="2.80" fill="none" stroke="#ff0000" stroke-width="0.8"/>
<circle cx="376.7" cy="66.9" r="3.80" fill="none" stroke="#ff0000" stroke-width="0.8"/>
<circle cx="381.9" cy="69.4" r="2.80" fill="none" stroke="#ff0000" stroke-width="0.8"/>
<circle cx="387.6" cy="71.5" r="2.80" fill="none" stroke="#ff0000" stroke-width="0.8"/>
<circle cx="395.2" cy="64.9" r="3.00" fill="none" stroke="#0000ff" stroke-width="0.8"/>
<circle cx="369.9" cy="75.1" r="2.80" fill="none" stroke="#ff0000" stroke-width="0.8"/>
<circle cx="379.0" cy="77.4" r="2.20" fill="none" stroke="#0000ff" stroke-width="0.8"/>
<circle cx="372.7" cy="89.4" r="2.80" fill="none" stroke="#0000ff" stroke-width="0.8"/>
<circle cx="376.7" cy="89.4" r="2.80" fill="none" stroke="#ff0000" stroke-width="0.8"/>
<circle cx="380.7" cy="89.4" r="2.50" fill="none" stroke="#0000ff" stroke-width="0.8"/>
<circle cx="443.4" cy="36.7" r="2.20" fill="none" stroke="#0000ff" stroke-width="0.8"/>
<circle cx="465.0" cy="51.3" r="2.50" fill="none" stroke="#ff0000" stroke-width="0.8"/>
<circle cx="428.3" cy="66.0" r="2.70" fill="none" stroke="#ff0000" stroke-width="0.8"/>
<circle cx="411.0" cy="71.6" r="2.70" fill="none" stroke="#ff0000" stroke-width="0.8"/>
<circle cx="416.3" cy="69.2" r="2.70" fill="none" stroke="#ff0000" stroke-width="0.8"/>
<circle cx="444.3" cy="52.7" r="2.50" fill="none" stroke="#0000ff" stroke-width="0.8"/>
</g>
<line x1="26.40" y1="0.40" x2="26.40" y2="4.90" stroke="#8a8a8a" stroke-width="0.8"/>
<line x1="26.40" y1="209.60" x2="26.40" y2="214.10" stroke="#8a8a8a" stroke-width="0.8"/>
<text x="26.60" y="225.7" font-size="10" font-family="Liberation Sans, sans-serif" text-anchor="middle" fill="#111">180<tspan font-size="7.2" dy="-2.1">°</tspan></text>
<line x1="53.61" y1="0.40" x2="53.61" y2="4.90" stroke="#8a8a8a" stroke-width="0.8"/>
<line x1="53.61" y1="209.60" x2="53.61" y2="214.10" stroke="#8a8a8a" stroke-width="0.8"/>
<text x="53.81" y="225.7" font-size="10" font-family="Liberation Sans, sans-serif" text-anchor="middle" fill="#111">200<tspan font-size="7.2" dy="-2.1">°</tspan></text>
<line x1="80.82" y1="0.40" x2="80.82" y2="4.90" stroke="#8a8a8a" stroke-width="0.8"/>
<line x1="80.82" y1="209.60" x2="80.82" y2="214.10" stroke="#8a8a8a" stroke-width="0.8"/>
<text x="81.02" y="225.7" font-size="10" font-family="Liberation Sans, sans-serif" text-anchor="middle" fill="#111">220<tspan font-size="7.2" dy="-2.1">°</tspan></text>
<line x1="108.03" y1="0.40" x2="108.03" y2="4.90" stroke="#8a8a8a" stroke-width="0.8"/>
<line x1="108.03" y1="209.60" x2="108.03" y2="214.10" stroke="#8a8a8a" stroke-width="0.8"/>
<text x="108.23" y="225.7" font-size="10" font-family="Liberation Sans, sans-serif" text-anchor="middle" fill="#111">240<tspan font-size="7.2" dy="-2.1">°</tspan></text>
<line x1="135.24" y1="0.40" x2="135.24" y2="4.90" stroke="#8a8a8a" stroke-width="0.8"/>
<line x1="135.24" y1="209.60" x2="135.24" y2="214.10" stroke="#8a8a8a" stroke-width="0.8"/>
<text x="135.44" y="225.7" font-size="10" font-family="Liberation Sans, sans-serif" text-anchor="middle" fill="#111">260<tspan font-size="7.2" dy="-2.1">°</tspan></text>
<line x1="162.46" y1="0.40" x2="162.46" y2="4.90" stroke="#8a8a8a" stroke-width="0.8"/>
<line x1="162.46" y1="209.60" x2="162.46" y2="214.10" stroke="#8a8a8a" stroke-width="0.8"/>
<text x="162.66" y="225.7" font-size="10" font-family="Liberation Sans, sans-serif" text-anchor="middle" fill="#111">280<tspan font-size="7.2" dy="-2.1">°</tspan></text>
<line x1="189.67" y1="0.40" x2="189.67" y2="4.90" stroke="#8a8a8a" stroke-width="0.8"/>
<line x1="189.67" y1="209.60" x2="189.67" y2="214.10" stroke="#8a8a8a" stroke-width="0.8"/>
<text x="189.87" y="225.7" font-size="10" font-family="Liberation Sans, sans-serif" text-anchor="middle" fill="#111">300<tspan font-size="7.2" dy="-2.1">°</tspan></text>
<line x1="216.88" y1="0.40" x2="216.88" y2="4.90" stroke="#8a8a8a" stroke-width="0.8"/>
<line x1="216.88" y1="209.60" x2="216.88" y2="214.10" stroke="#8a8a8a" stroke-width="0.8"/>
<text x="217.08" y="225.7" font-size="10" font-family="Liberation Sans, sans-serif" text-anchor="middle" fill="#111">320<tspan font-size="7.2" dy="-2.1">°</tspan></text>
<line x1="244.09" y1="0.40" x2="244.09" y2="4.90" stroke="#8a8a8a" stroke-width="0.8"/>
<line x1="244.09" y1="209.60" x2="244.09" y2="214.10" stroke="#8a8a8a" stroke-width="0.8"/>
<text x="244.29" y="225.7" font-size="10" font-family="Liberation Sans, sans-serif" text-anchor="middle" fill="#111">340<tspan font-size="7.2" dy="-2.1">°</tspan></text>
<line x1="271.30" y1="0.40" x2="271.30" y2="4.90" stroke="#8a8a8a" stroke-width="0.8"/>
<line x1="271.30" y1="209.60" x2="271.30" y2="214.10" stroke="#8a8a8a" stroke-width="0.8"/>
<text x="271.50" y="225.7" font-size="10" font-family="Liberation Sans, sans-serif" text-anchor="middle" fill="#111">0<tspan font-size="7.2" dy="-2.1">°</tspan></text>
<line x1="298.51" y1="0.40" x2="298.51" y2="4.90" stroke="#8a8a8a" stroke-width="0.8"/>
<line x1="298.51" y1="209.60" x2="298.51" y2="214.10" stroke="#8a8a8a" stroke-width="0.8"/>
<text x="298.71" y="225.7" font-size="10" font-family="Liberation Sans, sans-serif" text-anchor="middle" fill="#111">20<tspan font-size="7.2" dy="-2.1">°</tspan></text>
<line x1="325.72" y1="0.40" x2="325.72" y2="4.90" stroke="#8a8a8a" stroke-width="0.8"/>
<line x1="325.72" y1="209.60" x2="325.72" y2="214.10" stroke="#8a8a8a" stroke-width="0.8"/>
<text x="325.92" y="225.7" font-size="10" font-family="Liberation Sans, sans-serif" text-anchor="middle" fill="#111">40<tspan font-size="7.2" dy="-2.1">°</tspan></text>
<line x1="352.93" y1="0.40" x2="352.93" y2="4.90" stroke="#8a8a8a" stroke-width="0.8"/>
<line x1="352.93" y1="209.60" x2="352.93" y2="214.10" stroke="#8a8a8a" stroke-width="0.8"/>
<text x="353.13" y="225.7" font-size="10" font-family="Liberation Sans, sans-serif" text-anchor="middle" fill="#111">60<tspan font-size="7.2" dy="-2.1">°</tspan></text>
<line x1="380.14" y1="0.40" x2="380.14" y2="4.90" stroke="#8a8a8a" stroke-width="0.8"/>
<line x1="380.14" y1="209.60" x2="380.14" y2="214.10" stroke="#8a8a8a" stroke-width="0.8"/>
<text x="380.34" y="225.7" font-size="10" font-family="Liberation Sans, sans-serif" text-anchor="middle" fill="#111">80<tspan font-size="7.2" dy="-2.1">°</tspan></text>
<line x1="407.36" y1="0.40" x2="407.36" y2="4.90" stroke="#8a8a8a" stroke-width="0.8"/>
<line x1="407.36" y1="209.60" x2="407.36" y2="214.10" stroke="#8a8a8a" stroke-width="0.8"/>
<text x="407.56" y="225.7" font-size="10" font-family="Liberation Sans, sans-serif" text-anchor="middle" fill="#111">100<tspan font-size="7.2" dy="-2.1">°</tspan></text>
<line x1="434.57" y1="0.40" x2="434.57" y2="4.90" stroke="#8a8a8a" stroke-width="0.8"/>
<line x1="434.57" y1="209.60" x2="434.57" y2="214.10" stroke="#8a8a8a" stroke-width="0.8"/>
<text x="434.77" y="225.7" font-size="10" font-family="Liberation Sans, sans-serif" text-anchor="middle" fill="#111">120<tspan font-size="7.2" dy="-2.1">°</tspan></text>
<line x1="461.78" y1="0.40" x2="461.78" y2="4.90" stroke="#8a8a8a" stroke-width="0.8"/>
<line x1="461.78" y1="209.60" x2="461.78" y2="214.10" stroke="#8a8a8a" stroke-width="0.8"/>
<text x="461.98" y="225.7" font-size="10" font-family="Liberation Sans, sans-serif" text-anchor="middle" fill="#111">140<tspan font-size="7.2" dy="-2.1">°</tspan></text>
<line x1="488.99" y1="0.40" x2="488.99" y2="4.90" stroke="#8a8a8a" stroke-width="0.8"/>
<line x1="488.99" y1="209.60" x2="488.99" y2="214.10" stroke="#8a8a8a" stroke-width="0.8"/>
<text x="489.19" y="225.7" font-size="10" font-family="Liberation Sans, sans-serif" text-anchor="middle" fill="#111">160<tspan font-size="7.2" dy="-2.1">°</tspan></text>
<line x1="516.20" y1="0.40" x2="516.20" y2="4.90" stroke="#8a8a8a" stroke-width="0.8"/>
<line x1="516.20" y1="209.60" x2="516.20" y2="214.10" stroke="#8a8a8a" stroke-width="0.8"/>
<text x="516.40" y="225.7" font-size="10" font-family="Liberation Sans, sans-serif" text-anchor="middle" fill="#111">180<tspan font-size="7.2" dy="-2.1">°</tspan></text>
<line x1="21.90" y1="4.90" x2="26.40" y2="4.90" stroke="#8a8a8a" stroke-width="0.8"/>
<line x1="516.20" y1="4.90" x2="520.70" y2="4.90" stroke="#8a8a8a" stroke-width="0.8"/>
<text x="18.8" y="8.50" font-size="10" font-family="Liberation Sans, sans-serif" text-anchor="end" fill="#111">60<tspan font-size="7.2" dy="-2.1">°</tspan></text>
<line x1="21.90" y1="47.96" x2="26.40" y2="47.96" stroke="#8a8a8a" stroke-width="0.8"/>
<line x1="516.20" y1="47.96" x2="520.70" y2="47.96" stroke="#8a8a8a" stroke-width="0.8"/>
<text x="18.8" y="51.56" font-size="10" font-family="Liberation Sans, sans-serif" text-anchor="end" fill="#111">40<tspan font-size="7.2" dy="-2.1">°</tspan></text>
<line x1="21.90" y1="79.55" x2="26.40" y2="79.55" stroke="#8a8a8a" stroke-width="0.8"/>
<line x1="516.20" y1="79.55" x2="520.70" y2="79.55" stroke="#8a8a8a" stroke-width="0.8"/>
<text x="18.8" y="83.15" font-size="10" font-family="Liberation Sans, sans-serif" text-anchor="end" fill="#111">20<tspan font-size="7.2" dy="-2.1">°</tspan></text>
<line x1="21.90" y1="107.25" x2="26.40" y2="107.25" stroke="#8a8a8a" stroke-width="0.8"/>
<line x1="516.20" y1="107.25" x2="520.70" y2="107.25" stroke="#8a8a8a" stroke-width="0.8"/>
<text x="18.8" y="110.85" font-size="10" font-family="Liberation Sans, sans-serif" text-anchor="end" fill="#111">0<tspan font-size="7.2" dy="-2.1">°</tspan></text>
<line x1="21.90" y1="134.95" x2="26.40" y2="134.95" stroke="#8a8a8a" stroke-width="0.8"/>
<line x1="516.20" y1="134.95" x2="520.70" y2="134.95" stroke="#8a8a8a" stroke-width="0.8"/>
<text x="18.8" y="138.55" font-size="10" font-family="Liberation Sans, sans-serif" text-anchor="end" fill="#111">−20<tspan font-size="7.2" dy="-2.1">°</tspan></text>
<line x1="21.90" y1="166.54" x2="26.40" y2="166.54" stroke="#8a8a8a" stroke-width="0.8"/>
<line x1="516.20" y1="166.54" x2="520.70" y2="166.54" stroke="#8a8a8a" stroke-width="0.8"/>
<text x="18.8" y="170.14" font-size="10" font-family="Liberation Sans, sans-serif" text-anchor="end" fill="#111">−40<tspan font-size="7.2" dy="-2.1">°</tspan></text>
<line x1="21.90" y1="209.60" x2="26.40" y2="209.60" stroke="#8a8a8a" stroke-width="0.8"/>
<line x1="516.20" y1="209.60" x2="520.70" y2="209.60" stroke="#8a8a8a" stroke-width="0.8"/>
<text x="18.8" y="213.20" font-size="10" font-family="Liberation Sans, sans-serif" text-anchor="end" fill="#111">−60<tspan font-size="7.2" dy="-2.1">°</tspan></text>
<rect x="26.4" y="4.9" width="489.80" height="204.70" fill="none" stroke="#444" stroke-width="1.7"/>
<text x="237.0" y="189.7" font-size="12" font-weight="bold" font-family="Liberation Serif, serif" fill="#000">(a)</text>
<text x="236.7" y="241.4" font-size="7.9" font-weight="bold" font-family="Liberation Serif, serif" fill="#111">0</text>
<text x="257.8" y="241.4" font-size="7.9" font-weight="bold" font-family="Liberation Serif, serif" fill="#111">2</text>
<text x="277.9" y="241.4" font-size="7.9" font-weight="bold" font-family="Liberation Serif, serif" fill="#111">5</text>
<text x="298.7" y="241.4" font-size="7.9" font-weight="bold" font-family="Liberation Serif, serif" fill="#111">10</text>
<text x="318.8" y="241.4" font-size="7.9" font-weight="bold" font-family="Liberation Serif, serif" fill="#111">20</text>
<circle cx="244" cy="238.6" r="2.1" fill="#b3b3b3"/>
<circle cx="271.4" cy="238.6" r="2.8" fill="#b3b3b3"/>
<circle cx="291.5" cy="238.6" r="3.35" fill="#b3b3b3"/>
<circle cx="311.9" cy="238.6" r="4.1" fill="#b3b3b3"/>
<circle cx="332.6" cy="238.6" r="4.65" fill="#b3b3b3"/>
<line x1="60.50" y1="253.40" x2="60.50" y2="258.40" stroke="#8a8a8a" stroke-width="0.8"/>
<line x1="60.50" y1="366.20" x2="60.50" y2="371.20" stroke="#8a8a8a" stroke-width="0.8"/>
<line x1="98.18" y1="253.40" x2="98.18" y2="258.40" stroke="#8a8a8a" stroke-width="0.8"/>
<line x1="98.18" y1="366.20" x2="98.18" y2="371.20" stroke="#8a8a8a" stroke-width="0.8"/>
<line x1="135.86" y1="253.40" x2="135.86" y2="258.40" stroke="#8a8a8a" stroke-width="0.8"/>
<line x1="135.86" y1="366.20" x2="135.86" y2="371.20" stroke="#8a8a8a" stroke-width="0.8"/>
<line x1="173.54" y1="253.40" x2="173.54" y2="258.40" stroke="#8a8a8a" stroke-width="0.8"/>
<line x1="173.54" y1="366.20" x2="173.54" y2="371.20" stroke="#8a8a8a" stroke-width="0.8"/>
<line x1="211.22" y1="253.40" x2="211.22" y2="258.40" stroke="#8a8a8a" stroke-width="0.8"/>
<line x1="211.22" y1="366.20" x2="211.22" y2="371.20" stroke="#8a8a8a" stroke-width="0.8"/>
<line x1="248.90" y1="253.40" x2="248.90" y2="258.40" stroke="#8a8a8a" stroke-width="0.8"/>
<line x1="248.90" y1="366.20" x2="248.90" y2="371.20" stroke="#8a8a8a" stroke-width="0.8"/>
<line x1="55.00" y1="366.20" x2="60.50" y2="366.20" stroke="#8a8a8a" stroke-width="0.8"/>
<line x1="248.90" y1="366.20" x2="253.40" y2="366.20" stroke="#8a8a8a" stroke-width="0.8"/>
<text x="52.5" y="369.60" font-size="9.6" font-family="Liberation Sans, sans-serif" text-anchor="end" fill="#111">0</text>
<line x1="57.70" y1="352.72" x2="60.50" y2="352.72" stroke="#8a8a8a" stroke-width="0.8"/>
<line x1="248.90" y1="352.72" x2="251.10" y2="352.72" stroke="#8a8a8a" stroke-width="0.8"/>
<line x1="55.00" y1="339.25" x2="60.50" y2="339.25" stroke="#8a8a8a" stroke-width="0.8"/>
<line x1="248.90" y1="339.25" x2="253.40" y2="339.25" stroke="#8a8a8a" stroke-width="0.8"/>
<text x="52.5" y="342.65" font-size="9.6" font-family="Liberation Sans, sans-serif" text-anchor="end" fill="#111">20</text>
<line x1="57.70" y1="325.77" x2="60.50" y2="325.77" stroke="#8a8a8a" stroke-width="0.8"/>
<line x1="248.90" y1="325.77" x2="251.10" y2="325.77" stroke="#8a8a8a" stroke-width="0.8"/>
<line x1="55.00" y1="312.30" x2="60.50" y2="312.30" stroke="#8a8a8a" stroke-width="0.8"/>
<line x1="248.90" y1="312.30" x2="253.40" y2="312.30" stroke="#8a8a8a" stroke-width="0.8"/>
<text x="52.5" y="315.70" font-size="9.6" font-family="Liberation Sans, sans-serif" text-anchor="end" fill="#111">40</text>
<line x1="57.70" y1="298.82" x2="60.50" y2="298.82" stroke="#8a8a8a" stroke-width="0.8"/>
<line x1="248.90" y1="298.82" x2="251.10" y2="298.82" stroke="#8a8a8a" stroke-width="0.8"/>
<line x1="55.00" y1="285.35" x2="60.50" y2="285.35" stroke="#8a8a8a" stroke-width="0.8"/>
<line x1="248.90" y1="285.35" x2="253.40" y2="285.35" stroke="#8a8a8a" stroke-width="0.8"/>
<text x="52.5" y="288.75" font-size="9.6" font-family="Liberation Sans, sans-serif" text-anchor="end" fill="#111">60</text>
<line x1="57.70" y1="271.88" x2="60.50" y2="271.88" stroke="#8a8a8a" stroke-width="0.8"/>
<line x1="248.90" y1="271.88" x2="251.10" y2="271.88" stroke="#8a8a8a" stroke-width="0.8"/>
<line x1="55.00" y1="258.40" x2="60.50" y2="258.40" stroke="#8a8a8a" stroke-width="0.8"/>
<line x1="248.90" y1="258.40" x2="253.40" y2="258.40" stroke="#8a8a8a" stroke-width="0.8"/>
<text x="52.5" y="261.80" font-size="9.6" font-family="Liberation Sans, sans-serif" text-anchor="end" fill="#111">80</text>
<rect x="89.00" y="264.12" width="18.6" height="102.08" fill="none" stroke="#ff0000" stroke-width="2"/>
<rect x="125.30" y="299.63" width="20.6" height="66.57" fill="#ff0000"/>
<rect x="164.30" y="358.85" width="18.6" height="7.35" fill="none" stroke="#0000ff" stroke-width="2"/>
<rect x="201.00" y="363.50" width="20.6" height="2.69" fill="#0000ff"/>
<rect x="60.5" y="258.4" width="188.40" height="107.80" fill="none" stroke="#2a2a2a" stroke-width="1.5"/>
<text x="67.8" y="272.3" font-size="11.8" font-weight="bold" font-family="Liberation Serif, serif" fill="#000">(b)</text>
<text transform="translate(32.2,311.5) rotate(-90)" font-size="11" font-family="Liberation Serif, serif" text-anchor="middle" fill="#111">Urban Areas (%)</text>
<line x1="270.20" y1="253.40" x2="270.20" y2="258.40" stroke="#8a8a8a" stroke-width="0.8"/>
<line x1="270.20" y1="366.20" x2="270.20" y2="371.20" stroke="#8a8a8a" stroke-width="0.8"/>
<line x1="307.88" y1="253.40" x2="307.88" y2="258.40" stroke="#8a8a8a" stroke-width="0.8"/>
<line x1="307.88" y1="366.20" x2="307.88" y2="371.20" stroke="#8a8a8a" stroke-width="0.8"/>
<line x1="345.56" y1="253.40" x2="345.56" y2="258.40" stroke="#8a8a8a" stroke-width="0.8"/>
<line x1="345.56" y1="366.20" x2="345.56" y2="371.20" stroke="#8a8a8a" stroke-width="0.8"/>
<line x1="383.24" y1="253.40" x2="383.24" y2="258.40" stroke="#8a8a8a" stroke-width="0.8"/>
<line x1="383.24" y1="366.20" x2="383.24" y2="371.20" stroke="#8a8a8a" stroke-width="0.8"/>
<line x1="420.92" y1="253.40" x2="420.92" y2="258.40" stroke="#8a8a8a" stroke-width="0.8"/>
<line x1="420.92" y1="366.20" x2="420.92" y2="371.20" stroke="#8a8a8a" stroke-width="0.8"/>
<line x1="458.60" y1="253.40" x2="458.60" y2="258.40" stroke="#8a8a8a" stroke-width="0.8"/>
<line x1="458.60" y1="366.20" x2="458.60" y2="371.20" stroke="#8a8a8a" stroke-width="0.8"/>
<line x1="265.20" y1="258.40" x2="270.20" y2="258.40" stroke="#8a8a8a" stroke-width="0.8"/>
<line x1="458.60" y1="258.40" x2="463.60" y2="258.40" stroke="#8a8a8a" stroke-width="0.8"/>
<text x="483.1" y="261.40" font-size="9.6" font-family="Liberation Sans, sans-serif" text-anchor="end" fill="#111">10</text>
<line x1="265.20" y1="285.35" x2="270.20" y2="285.35" stroke="#8a8a8a" stroke-width="0.8"/>
<line x1="458.60" y1="285.35" x2="463.60" y2="285.35" stroke="#8a8a8a" stroke-width="0.8"/>
<text x="483.1" y="288.35" font-size="9.6" font-family="Liberation Sans, sans-serif" text-anchor="end" fill="#111">5</text>
<line x1="265.20" y1="312.30" x2="270.20" y2="312.30" stroke="#8a8a8a" stroke-width="0.8"/>
<line x1="458.60" y1="312.30" x2="463.60" y2="312.30" stroke="#8a8a8a" stroke-width="0.8"/>
<text x="483.1" y="315.30" font-size="9.6" font-family="Liberation Sans, sans-serif" text-anchor="end" fill="#111">0</text>
<line x1="265.20" y1="339.25" x2="270.20" y2="339.25" stroke="#8a8a8a" stroke-width="0.8"/>
<line x1="458.60" y1="339.25" x2="463.60" y2="339.25" stroke="#8a8a8a" stroke-width="0.8"/>
<text x="483.1" y="342.25" font-size="9.6" font-family="Liberation Sans, sans-serif" text-anchor="end" fill="#111">−5</text>
<line x1="265.20" y1="366.20" x2="270.20" y2="366.20" stroke="#8a8a8a" stroke-width="0.8"/>
<line x1="458.60" y1="366.20" x2="463.60" y2="366.20" stroke="#8a8a8a" stroke-width="0.8"/>
<text x="483.1" y="369.20" font-size="9.6" font-family="Liberation Sans, sans-serif" text-anchor="end" fill="#111">−10</text>
<rect x="298.30" y="281.50" width="18.6" height="30.80" fill="none" stroke="#ff0000" stroke-width="2"/>
<rect x="335.20" y="268.10" width="20.6" height="44.20" fill="#ff0000"/>
<rect x="373.70" y="312.30" width="18.6" height="10.86" fill="none" stroke="#0000ff" stroke-width="2"/>
<rect x="410.40" y="312.30" width="20.6" height="30.18" fill="#0000ff"/>
<line x1="270.2" y1="312.5" x2="458.6" y2="312.5" stroke="#000" stroke-width="1"/>
<rect x="270.2" y="258.4" width="188.40" height="107.80" fill="none" stroke="#2a2a2a" stroke-width="1.5"/>
<text x="277.7" y="269.0" font-size="11.8" font-weight="bold" font-family="Liberation Serif, serif" fill="#000">(c)</text>
<text transform="translate(499,311.5) rotate(-90)" font-size="11" font-family="Liberation Serif, serif" text-anchor="middle" fill="#111">Median Change (days)</text>
<line x1="84.00" y1="381.00" x2="84.00" y2="386.00" stroke="#8a8a8a" stroke-width="0.8"/>
<line x1="84.00" y1="493.60" x2="84.00" y2="498.60" stroke="#8a8a8a" stroke-width="0.8"/>
<line x1="124.31" y1="381.00" x2="124.31" y2="386.00" stroke="#8a8a8a" stroke-width="0.8"/>
<line x1="124.31" y1="493.60" x2="124.31" y2="498.60" stroke="#8a8a8a" stroke-width="0.8"/>
<line x1="164.62" y1="381.00" x2="164.62" y2="386.00" stroke="#8a8a8a" stroke-width="0.8"/>
<line x1="164.62" y1="493.60" x2="164.62" y2="498.60" stroke="#8a8a8a" stroke-width="0.8"/>
<line x1="204.94" y1="381.00" x2="204.94" y2="386.00" stroke="#8a8a8a" stroke-width="0.8"/>
<line x1="204.94" y1="493.60" x2="204.94" y2="498.60" stroke="#8a8a8a" stroke-width="0.8"/>
<line x1="245.25" y1="381.00" x2="245.25" y2="386.00" stroke="#8a8a8a" stroke-width="0.8"/>
<line x1="245.25" y1="493.60" x2="245.25" y2="498.60" stroke="#8a8a8a" stroke-width="0.8"/>
<line x1="285.56" y1="381.00" x2="285.56" y2="386.00" stroke="#8a8a8a" stroke-width="0.8"/>
<line x1="285.56" y1="493.60" x2="285.56" y2="498.60" stroke="#8a8a8a" stroke-width="0.8"/>
<line x1="325.88" y1="381.00" x2="325.88" y2="386.00" stroke="#8a8a8a" stroke-width="0.8"/>
<line x1="325.88" y1="493.60" x2="325.88" y2="498.60" stroke="#8a8a8a" stroke-width="0.8"/>
<line x1="366.19" y1="381.00" x2="366.19" y2="386.00" stroke="#8a8a8a" stroke-width="0.8"/>
<line x1="366.19" y1="493.60" x2="366.19" y2="498.60" stroke="#8a8a8a" stroke-width="0.8"/>
<line x1="406.50" y1="381.00" x2="406.50" y2="386.00" stroke="#8a8a8a" stroke-width="0.8"/>
<line x1="406.50" y1="493.60" x2="406.50" y2="498.60" stroke="#8a8a8a" stroke-width="0.8"/>
<line x1="79.00" y1="493.60" x2="84.00" y2="493.60" stroke="#8a8a8a" stroke-width="0.8"/>
<line x1="406.50" y1="493.60" x2="411.50" y2="493.60" stroke="#8a8a8a" stroke-width="0.8"/>
<text x="423.3" y="496.60" font-size="9.6" font-family="Liberation Sans, sans-serif" text-anchor="end" fill="#111">0</text>
<line x1="79.00" y1="472.08" x2="84.00" y2="472.08" stroke="#8a8a8a" stroke-width="0.8"/>
<line x1="406.50" y1="472.08" x2="411.50" y2="472.08" stroke="#8a8a8a" stroke-width="0.8"/>
<text x="423.3" y="475.08" font-size="9.6" font-family="Liberation Sans, sans-serif" text-anchor="end" fill="#111">2</text>
<line x1="79.00" y1="450.56" x2="84.00" y2="450.56" stroke="#8a8a8a" stroke-width="0.8"/>
<line x1="406.50" y1="450.56" x2="411.50" y2="450.56" stroke="#8a8a8a" stroke-width="0.8"/>
<text x="423.3" y="453.56" font-size="9.6" font-family="Liberation Sans, sans-serif" text-anchor="end" fill="#111">4</text>
<line x1="79.00" y1="429.04" x2="84.00" y2="429.04" stroke="#8a8a8a" stroke-width="0.8"/>
<line x1="406.50" y1="429.04" x2="411.50" y2="429.04" stroke="#8a8a8a" stroke-width="0.8"/>
<text x="423.3" y="432.04" font-size="9.6" font-family="Liberation Sans, sans-serif" text-anchor="end" fill="#111">6</text>
<line x1="79.00" y1="407.52" x2="84.00" y2="407.52" stroke="#8a8a8a" stroke-width="0.8"/>
<line x1="406.50" y1="407.52" x2="411.50" y2="407.52" stroke="#8a8a8a" stroke-width="0.8"/>
<text x="423.3" y="410.52" font-size="9.6" font-family="Liberation Sans, sans-serif" text-anchor="end" fill="#111">8</text>
<line x1="79.00" y1="386.00" x2="84.00" y2="386.00" stroke="#8a8a8a" stroke-width="0.8"/>
<line x1="406.50" y1="386.00" x2="411.50" y2="386.00" stroke="#8a8a8a" stroke-width="0.8"/>
<text x="423.3" y="389.00" font-size="9.6" font-family="Liberation Sans, sans-serif" text-anchor="end" fill="#111">10</text>
<rect x="113.91" y="418.82" width="20.8" height="74.78" fill="#ff0000"/>
<text transform="translate(124.61,503.4) rotate(-90) scale(0.84,1)" font-size="9.6" font-weight="bold" font-family="Liberation Serif, serif" text-anchor="end" fill="#111">AF</text>
<rect x="154.22" y="466.16" width="20.8" height="27.44" fill="#ff0000"/>
<text transform="translate(164.93,503.4) rotate(-90) scale(0.84,1)" font-size="9.6" font-weight="bold" font-family="Liberation Serif, serif" text-anchor="end" fill="#111">EA</text>
<rect x="194.54" y="424.20" width="20.8" height="69.40" fill="#ff0000"/>
<text transform="translate(205.24,503.4) rotate(-90) scale(0.84,1)" font-size="9.6" font-weight="bold" font-family="Liberation Serif, serif" text-anchor="end" fill="#111">EU</text>
<rect x="234.85" y="442.71" width="20.8" height="50.89" fill="#ff0000"/>
<text transform="translate(245.55,503.4) rotate(-90) scale(0.84,1)" font-size="9.6" font-weight="bold" font-family="Liberation Serif, serif" text-anchor="end" fill="#111">GL</text>
<rect x="275.16" y="459.17" width="20.8" height="34.43" fill="#ff0000"/>
<text transform="translate(285.86,503.4) rotate(-90) scale(0.84,1)" font-size="9.6" font-weight="bold" font-family="Liberation Serif, serif" text-anchor="end" fill="#111">IN</text>
<rect x="315.48" y="460.78" width="20.8" height="32.82" fill="#ff0000"/>
<text transform="translate(326.18,503.4) rotate(-90) scale(0.84,1)" font-size="9.6" font-weight="bold" font-family="Liberation Serif, serif" text-anchor="end" fill="#111">NA</text>
<rect x="355.79" y="397.30" width="20.8" height="96.30" fill="#ff0000"/>
<text transform="translate(366.49,503.4) rotate(-90) scale(0.84,1)" font-size="9.6" font-weight="bold" font-family="Liberation Serif, serif" text-anchor="end" fill="#111">SA</text>
<rect x="84" y="386" width="322.50" height="107.60" fill="none" stroke="#2a2a2a" stroke-width="1.5"/>
<text x="91.7" y="407.6" font-size="11.7" font-weight="bold" font-family="Liberation Serif, serif" fill="#000">(d)</text>
<text transform="translate(439.5,439.6) rotate(-90)" font-size="10.8" font-family="Liberation Serif, serif" text-anchor="middle" fill="#111">Median Change (days)</text>
</svg></body></html>
